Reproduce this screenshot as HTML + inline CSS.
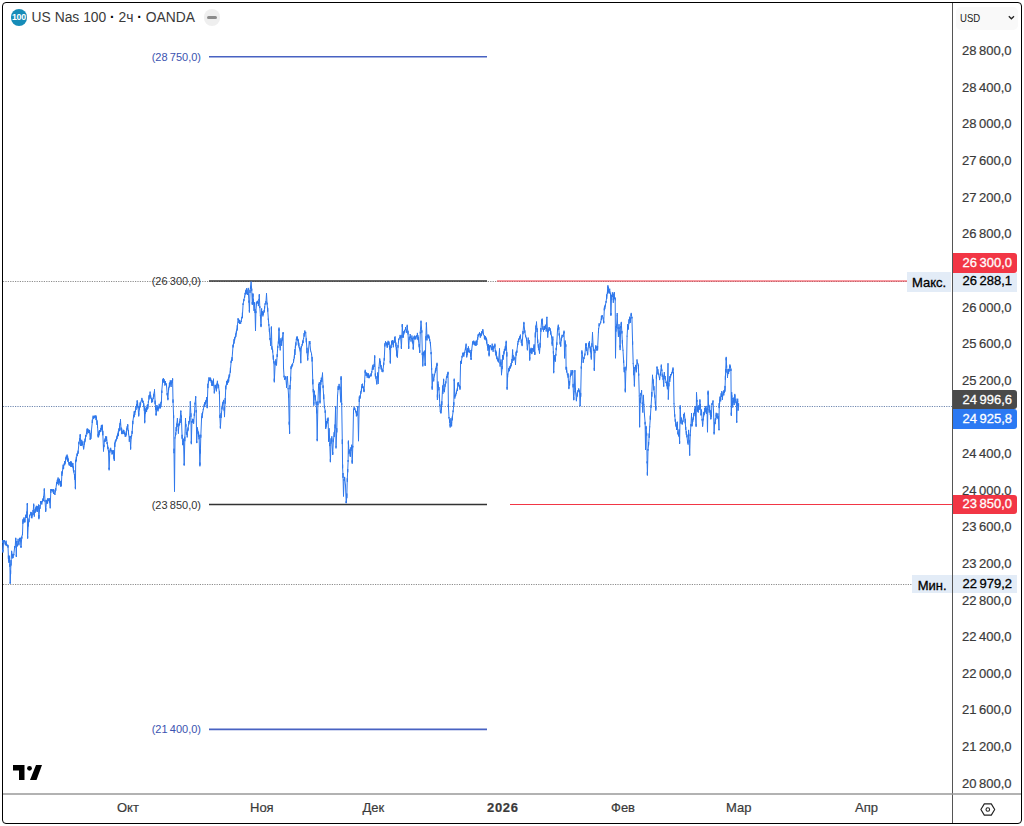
<!DOCTYPE html>
<html><head><meta charset="utf-8">
<style>
*{margin:0;padding:0;box-sizing:border-box}
html,body{width:1024px;height:826px;background:#fff;overflow:hidden;font-family:"Liberation Sans",sans-serif}
#frame{position:absolute;left:2px;top:2px;width:1020px;height:822px;border:1px solid #000;border-radius:4px;overflow:hidden;background:#fff}
svg{position:absolute;left:0;top:0}
.t{position:absolute;white-space:pre;line-height:1}
.pl{position:absolute;left:962px;font-size:13px;color:#3a3a3a;white-space:pre;line-height:1;-webkit-text-stroke:0.2px #3a3a3a}
.tl{position:absolute;top:801.4px;font-size:13px;color:#3a3a3a;white-space:pre;line-height:1;-webkit-text-stroke:0.2px #3a3a3a}
.fl{position:absolute;font-size:11px;white-space:pre;line-height:1;text-align:right;width:60px}
.lab{position:absolute;left:953px;width:64px;font-size:13px;line-height:13px;padding-left:9.5px;white-space:pre;-webkit-text-stroke:0.3px currentColor}
.side{position:absolute;font-size:13px;line-height:13px;background:#e3ecf7;color:#000;white-space:pre;text-align:center;-webkit-text-stroke:0.3px currentColor}
</style></head>
<body>
<div id="frame"></div>
<svg width="1024" height="826" viewBox="0 0 1024 826">
  <!-- axis dividers -->
  <line x1="952.5" y1="3" x2="952.5" y2="823" stroke="#555" stroke-width="1"/>
  <line x1="3" y1="794" x2="1021" y2="794" stroke="#999" stroke-width="1.4"/>
  <!-- dotted lines -->
  <line x1="3" y1="281.5" x2="907" y2="281.5" stroke="#8c8c8c" stroke-width="1" stroke-dasharray="1.2 1.2"/>
  <line x1="3" y1="584.5" x2="912" y2="584.5" stroke="#8c8c8c" stroke-width="1" stroke-dasharray="1.2 1.2"/>
  <line x1="3" y1="406.5" x2="952" y2="406.5" stroke="#7088b0" stroke-width="1" stroke-dasharray="1.2 1.2"/>
  <!-- fib lines -->
  <line x1="209" y1="56.8" x2="487" y2="56.8" stroke="#4862c2" stroke-width="1.6"/>
  <line x1="209" y1="281" x2="487" y2="281" stroke="#333" stroke-width="1.6"/>
  <line x1="209" y1="504.5" x2="487" y2="504.5" stroke="#333" stroke-width="1.6"/>
  <line x1="209" y1="729.4" x2="487" y2="729.4" stroke="#4862c2" stroke-width="1.6"/>
  <!-- red rays -->
  <line x1="497" y1="281" x2="907" y2="281" stroke="#f23645" stroke-width="1"/>
  <line x1="510" y1="504.5" x2="952" y2="504.5" stroke="#f23645" stroke-width="1"/>
  <g id="chart"><path d="M2.9 541.2 L2.9 542.9 L2.9 540.0 L2.9 541.2 L2.9 551.4 L2.9 552.6 L2.9 550.0 L2.9 551.4 L3.6 541.2 L3.6 542.7 L3.6 540.6 L3.6 541.2 L4.3 541.6 L4.3 540.0 L4.3 541.9 L4.3 541.6 L5.1 542.0 L5.1 544.4 L5.1 541.7 L5.1 542.0 L5.6 542.4 L5.6 545.3 L5.6 542.2 L5.6 542.4 L6.1 542.7 L6.1 540.7 L6.1 544.5 L6.1 542.7 L6.7 544.2 L6.7 544.1 L6.7 545.7 L6.7 544.2 L7.3 545.6 L7.3 545.0 L7.3 546.3 L7.3 545.6 L8.0 546.3 L8.0 547.6 L8.0 544.9 L8.0 546.3 L8.4 557.2 L8.4 555.6 L8.4 559.1 L8.4 557.2 L9.0 561.6 L9.0 559.6 L9.0 563.0 L9.0 561.6 L9.4 558.7 L9.4 561.7 L9.4 555.7 L9.4 558.7 L9.9 566.0 L9.9 563.9 L9.9 566.9 L9.9 566.0 L10.2 583.4 L10.2 583.6 L10.2 582.5 L10.2 583.4 L10.6 571.7 L10.6 570.5 L10.6 574.2 L10.6 571.7 L11.0 563.0 L11.0 560.1 L11.0 565.5 L11.0 563.0 L11.6 551.4 L11.6 550.8 L11.6 554.1 L11.6 551.4 L12.3 557.2 L12.3 554.3 L12.3 558.4 L12.3 557.2 L13.1 555.8 L13.1 553.9 L13.1 558.1 L13.1 555.8 L13.8 554.3 L13.8 555.3 L13.8 554.0 L13.8 554.3 L14.5 548.5 L14.5 546.2 L14.5 548.9 L14.5 548.5 L15.2 547.0 L15.2 547.2 L15.2 546.7 L15.2 547.0 L15.7 538.3 L15.7 537.8 L15.7 540.0 L15.7 538.3 L16.3 555.8 L16.3 555.2 L16.3 557.0 L16.3 555.8 L16.7 542.7 L16.7 540.8 L16.7 543.0 L16.7 542.7 L17.4 545.6 L17.4 546.4 L17.4 545.0 L17.4 545.6 L18.1 541.2 L18.1 542.1 L18.1 538.8 L18.1 541.2 L18.9 544.1 L18.9 545.3 L18.9 543.5 L18.9 544.1 L19.6 539.8 L19.6 540.1 L19.6 537.9 L19.6 539.8 L20.3 538.3 L20.3 539.1 L20.3 537.7 L20.3 538.3 L21.0 547.0 L21.0 546.0 L21.0 547.9 L21.0 547.0 L21.8 536.9 L21.8 536.6 L21.8 538.6 L21.8 536.9 L22.5 534.0 L22.5 532.2 L22.5 535.1 L22.5 534.0 L22.9 522.3 L22.9 523.8 L22.9 519.4 L22.9 522.3 L23.4 521.2 L23.4 518.6 L23.4 521.7 L23.4 521.2 L24.0 520.1 L24.0 517.4 L24.0 522.6 L24.0 520.1 L24.5 519.8 L24.5 522.0 L24.5 519.2 L24.5 519.8 L25.0 519.4 L25.0 522.3 L25.0 518.8 L25.0 519.4 L25.8 516.5 L25.8 514.7 L25.8 517.8 L25.8 516.5 L26.4 515.0 L26.4 514.9 L26.4 517.9 L26.4 515.0 L26.9 513.6 L26.9 514.4 L26.9 511.5 L26.9 513.6 L27.3 504.2 L27.3 503.0 L27.3 505.1 L27.3 504.2 L27.6 538.3 L27.6 536.1 L27.6 538.5 L27.6 538.3 L28.3 523.8 L28.3 526.4 L28.3 522.1 L28.3 523.8 L29.0 519.4 L29.0 518.6 L29.0 522.2 L29.0 519.4 L29.8 515.0 L29.8 515.0 L29.8 515.8 L29.8 515.0 L30.3 514.3 L30.3 514.1 L30.3 514.8 L30.3 514.3 L30.8 513.6 L30.8 511.9 L30.8 514.0 L30.8 513.6 L31.4 515.0 L31.4 518.0 L31.4 512.4 L31.4 515.0 L31.9 516.5 L31.9 514.4 L31.9 518.3 L31.9 516.5 L32.5 514.3 L32.5 514.4 L32.5 514.2 L32.5 514.3 L33.1 512.1 L33.1 510.0 L33.1 515.0 L33.1 512.1 L33.7 504.9 L33.7 506.3 L33.7 503.7 L33.7 504.9 L34.3 513.6 L34.3 512.6 L34.3 516.6 L34.3 513.6 L35.1 510.7 L35.1 512.9 L35.1 509.1 L35.1 510.7 L35.7 509.6 L35.7 511.7 L35.7 507.4 L35.7 509.6 L36.3 508.5 L36.3 509.6 L36.3 505.8 L36.3 508.5 L36.9 508.9 L36.9 506.1 L36.9 511.5 L36.9 508.9 L37.5 509.2 L37.5 511.8 L37.5 506.8 L37.5 509.2 L38.0 507.8 L38.0 508.9 L38.0 505.9 L38.0 507.8 L38.5 506.3 L38.5 506.5 L38.5 504.5 L38.5 506.3 L38.9 518.0 L38.9 519.2 L38.9 515.0 L38.9 518.0 L39.5 509.2 L39.5 511.4 L39.5 508.0 L39.5 509.2 L40.0 506.3 L40.0 505.0 L40.0 508.8 L40.0 506.3 L40.6 503.4 L40.6 503.5 L40.6 501.1 L40.6 503.4 L41.2 503.0 L41.2 503.7 L41.2 501.6 L41.2 503.0 L41.8 502.7 L41.8 504.5 L41.8 501.2 L41.8 502.7 L42.3 501.6 L42.3 500.8 L42.3 501.6 L42.3 501.6 L42.8 500.5 L42.8 498.5 L42.8 501.1 L42.8 500.5 L43.5 499.1 L43.5 496.4 L43.5 501.1 L43.5 499.1 L44.3 489.6 L44.3 490.6 L44.3 488.4 L44.3 489.6 L45.0 500.5 L45.0 501.8 L45.0 499.9 L45.0 500.5 L45.7 510.7 L45.7 508.0 L45.7 511.9 L45.7 510.7 L46.4 502.0 L46.4 500.3 L46.4 502.9 L46.4 502.0 L47.0 501.2 L47.0 503.8 L47.0 499.8 L47.0 501.2 L47.6 500.5 L47.6 498.4 L47.6 503.4 L47.6 500.5 L48.1 499.8 L48.1 499.3 L48.1 501.2 L48.1 499.8 L48.6 499.1 L48.6 500.3 L48.6 498.5 L48.6 499.1 L49.1 500.1 L49.1 501.1 L49.1 498.7 L49.1 500.1 L49.6 501.2 L49.6 498.3 L49.6 502.6 L49.6 501.2 L50.2 507.1 L50.2 507.0 L50.2 508.3 L50.2 507.1 L50.8 491.1 L50.8 489.1 L50.8 492.8 L50.8 491.1 L51.4 490.7 L51.4 489.1 L51.4 490.8 L51.4 490.7 L52.0 490.3 L52.0 490.4 L52.0 489.1 L52.0 490.3 L52.5 490.7 L52.5 490.0 L52.5 491.1 L52.5 490.7 L53.0 491.1 L53.0 492.4 L53.0 489.2 L53.0 491.1 L53.5 491.5 L53.5 493.9 L53.5 489.5 L53.5 491.5 L54.0 491.8 L54.0 489.7 L54.0 492.4 L54.0 491.8 L54.9 494.7 L54.9 494.2 L54.9 494.7 L54.9 494.7 L55.7 490.3 L55.7 488.2 L55.7 490.8 L55.7 490.3 L56.6 483.1 L56.6 485.2 L56.6 482.1 L56.6 483.1 L57.3 481.6 L57.3 479.8 L57.3 483.9 L57.3 481.6 L58.1 478.7 L58.1 477.5 L58.1 481.4 L58.1 478.7 L58.8 483.1 L58.8 480.3 L58.8 485.3 L58.8 483.1 L59.5 480.2 L59.5 482.1 L59.5 478.8 L59.5 480.2 L60.1 482.0 L60.1 483.7 L60.1 480.9 L60.1 482.0 L60.7 483.9 L60.7 481.5 L60.7 486.7 L60.7 483.9 L61.3 485.7 L61.3 486.3 L61.3 483.7 L61.3 485.7 L61.9 473.9 L61.9 475.8 L61.9 471.4 L61.9 473.9 L62.5 470.8 L62.5 473.4 L62.5 470.1 L62.5 470.8 L63.1 467.6 L63.1 469.2 L63.1 464.7 L63.1 467.6 L63.6 466.0 L63.6 468.8 L63.6 465.1 L63.6 466.0 L64.2 464.5 L64.2 463.4 L64.2 464.7 L64.2 464.5 L64.7 462.9 L64.7 461.2 L64.7 465.2 L64.7 462.9 L65.2 461.3 L65.2 461.2 L65.2 463.7 L65.2 461.3 L65.8 459.7 L65.8 457.3 L65.8 460.2 L65.8 459.7 L66.3 458.1 L66.3 455.7 L66.3 458.5 L66.3 458.1 L67.1 455.8 L67.1 458.0 L67.1 454.6 L67.1 455.8 L67.7 458.6 L67.7 456.5 L67.7 461.4 L67.7 458.6 L68.2 461.3 L68.2 458.5 L68.2 461.6 L68.2 461.3 L69.1 464.4 L69.1 465.3 L69.1 462.8 L69.1 464.4 L69.7 464.0 L69.7 465.6 L69.7 462.1 L69.7 464.0 L70.2 463.6 L70.2 461.9 L70.2 464.5 L70.2 463.6 L70.7 463.9 L70.7 461.3 L70.7 466.6 L70.7 463.9 L71.3 464.1 L71.3 467.0 L71.3 461.6 L71.3 464.1 L71.8 464.4 L71.8 465.0 L71.8 462.7 L71.8 464.4 L72.3 465.2 L72.3 463.7 L72.3 467.0 L72.3 465.2 L72.9 466.0 L72.9 463.1 L72.9 467.5 L72.9 466.0 L73.4 469.1 L73.4 466.7 L73.4 470.8 L73.4 469.1 L73.9 472.3 L73.9 472.5 L73.9 470.2 L73.9 472.3 L74.5 475.5 L74.5 478.3 L74.5 474.2 L74.5 475.5 L75.0 478.6 L75.0 477.8 L75.0 480.0 L75.0 478.6 L75.4 488.0 L75.4 489.2 L75.4 486.7 L75.4 488.0 L75.7 461.3 L75.7 459.9 L75.7 462.3 L75.7 461.3 L76.3 458.6 L76.3 456.7 L76.3 461.3 L76.3 458.6 L77.0 455.8 L77.0 453.5 L77.0 455.9 L77.0 455.8 L77.5 453.8 L77.5 453.1 L77.5 455.9 L77.5 453.8 L78.1 451.8 L78.1 450.7 L78.1 453.7 L78.1 451.8 L78.9 444.0 L78.9 444.4 L78.9 441.8 L78.9 444.0 L79.7 439.2 L79.7 439.8 L79.7 438.4 L79.7 439.2 L80.2 435.3 L80.2 434.1 L80.2 436.4 L80.2 435.3 L80.8 445.5 L80.8 443.9 L80.8 446.0 L80.8 445.5 L81.2 443.9 L81.2 445.9 L81.2 442.1 L81.2 443.9 L81.7 442.4 L81.7 444.2 L81.7 439.8 L81.7 442.4 L82.2 443.2 L82.2 445.4 L82.2 442.5 L82.2 443.2 L82.8 444.0 L82.8 441.3 L82.8 444.9 L82.8 444.0 L83.6 448.7 L83.6 449.4 L83.6 445.9 L83.6 448.7 L84.4 444.0 L84.4 441.3 L84.4 444.4 L84.4 444.0 L85.0 440.9 L85.0 438.7 L85.0 441.6 L85.0 440.9 L85.5 437.7 L85.5 439.0 L85.5 435.2 L85.5 437.7 L86.0 435.4 L86.0 436.6 L86.0 435.0 L86.0 435.4 L86.5 433.0 L86.5 433.6 L86.5 432.9 L86.5 433.0 L87.0 431.4 L87.0 428.7 L87.0 434.3 L87.0 431.4 L87.6 429.8 L87.6 432.1 L87.6 428.6 L87.6 429.8 L88.2 431.4 L88.2 429.3 L88.2 432.0 L88.2 431.4 L88.7 433.0 L88.7 433.1 L88.7 432.7 L88.7 433.0 L89.6 431.4 L89.6 429.9 L89.6 433.1 L89.6 431.4 L90.2 439.2 L90.2 439.8 L90.2 438.6 L90.2 439.2 L90.9 436.1 L90.9 433.1 L90.9 438.9 L90.9 436.1 L91.5 429.8 L91.5 429.6 L91.5 432.7 L91.5 429.8 L92.3 422.0 L92.3 419.7 L92.3 423.0 L92.3 422.0 L93.1 417.2 L93.1 418.5 L93.1 415.7 L93.1 417.2 L93.7 416.8 L93.7 418.9 L93.7 416.8 L93.7 416.8 L94.3 416.4 L94.3 417.8 L94.3 415.9 L94.3 416.4 L94.9 416.8 L94.9 415.6 L94.9 417.4 L94.9 416.8 L95.6 417.2 L95.6 417.2 L95.6 415.7 L95.6 417.2 L96.0 418.0 L96.0 420.1 L96.0 415.6 L96.0 418.0 L96.5 418.8 L96.5 420.0 L96.5 416.9 L96.5 418.8 L97.0 422.0 L97.0 424.9 L97.0 420.4 L97.0 422.0 L97.5 425.1 L97.5 427.8 L97.5 424.3 L97.5 425.1 L98.1 436.1 L98.1 433.8 L98.1 437.3 L98.1 436.1 L98.6 434.6 L98.6 437.2 L98.6 431.9 L98.6 434.6 L99.1 433.0 L99.1 430.7 L99.1 435.3 L99.1 433.0 L99.7 432.2 L99.7 430.0 L99.7 432.4 L99.7 432.2 L100.2 431.4 L100.2 430.0 L100.2 431.4 L100.2 431.4 L100.8 429.8 L100.8 427.9 L100.8 431.7 L100.8 429.8 L101.3 428.2 L101.3 425.4 L101.3 430.2 L101.3 428.2 L101.8 427.0 L101.8 428.8 L101.8 425.1 L101.8 427.0 L102.2 425.9 L102.2 428.9 L102.2 424.7 L102.2 425.9 L102.8 433.0 L102.8 435.3 L102.8 430.9 L102.8 433.0 L103.5 450.3 L103.5 451.5 L103.5 450.2 L103.5 450.3 L104.0 445.6 L104.0 444.8 L104.0 446.8 L104.0 445.6 L104.4 440.8 L104.4 440.2 L104.4 441.9 L104.4 440.8 L105.1 439.2 L105.1 442.0 L105.1 438.5 L105.1 439.2 L105.7 437.7 L105.7 440.6 L105.7 436.2 L105.7 437.7 L106.6 439.2 L106.6 441.1 L106.6 436.5 L106.6 439.2 L107.1 442.4 L107.1 444.1 L107.1 442.1 L107.1 442.4 L107.6 445.5 L107.6 445.4 L107.6 448.3 L107.6 445.5 L108.0 448.6 L108.0 447.2 L108.0 449.2 L108.0 448.6 L108.5 451.8 L108.5 452.0 L108.5 450.0 L108.5 451.8 L109.1 469.1 L109.1 470.3 L109.1 467.8 L109.1 469.1 L109.8 451.8 L109.8 452.7 L109.8 450.7 L109.8 451.8 L110.2 450.2 L110.2 451.1 L110.2 448.6 L110.2 450.2 L110.7 448.7 L110.7 447.8 L110.7 448.7 L110.7 448.7 L111.3 450.2 L111.3 450.7 L111.3 450.1 L111.3 450.2 L112.0 451.8 L112.0 454.5 L112.0 450.6 L112.0 451.8 L112.6 451.1 L112.6 454.0 L112.6 450.9 L112.6 451.1 L113.2 450.3 L113.2 450.1 L113.2 453.0 L113.2 450.3 L113.9 455.8 L113.9 454.4 L113.9 458.7 L113.9 455.8 L114.3 459.7 L114.3 460.9 L114.3 458.1 L114.3 459.7 L114.8 444.0 L114.8 446.9 L114.8 442.6 L114.8 444.0 L115.3 442.4 L115.3 442.7 L115.3 440.6 L115.3 442.4 L115.9 440.8 L115.9 439.4 L115.9 441.4 L115.9 440.8 L116.5 439.2 L116.5 437.7 L116.5 439.6 L116.5 439.2 L117.0 437.7 L117.0 435.7 L117.0 439.1 L117.0 437.7 L117.7 435.4 L117.7 436.6 L117.7 433.6 L117.7 435.4 L118.3 433.0 L118.3 436.0 L118.3 431.4 L118.3 433.0 L118.9 430.6 L118.9 428.4 L118.9 431.3 L118.9 430.6 L119.5 428.2 L119.5 430.6 L119.5 425.5 L119.5 428.2 L120.0 424.3 L120.0 425.1 L120.0 423.2 L120.0 424.3 L120.5 420.4 L120.5 422.2 L120.5 419.2 L120.5 420.4 L121.1 429.8 L121.1 427.5 L121.1 430.4 L121.1 429.8 L121.7 431.4 L121.7 434.1 L121.7 428.5 L121.7 431.4 L122.2 433.0 L122.2 432.9 L122.2 433.2 L122.2 433.0 L122.8 432.2 L122.8 430.9 L122.8 434.1 L122.8 432.2 L123.3 431.4 L123.3 429.8 L123.3 431.6 L123.3 431.4 L123.9 432.2 L123.9 433.9 L123.9 430.2 L123.9 432.2 L124.6 433.0 L124.6 431.9 L124.6 434.4 L124.6 433.0 L125.2 434.6 L125.2 436.8 L125.2 433.5 L125.2 434.6 L125.8 436.1 L125.8 436.5 L125.8 435.9 L125.8 436.1 L126.3 433.0 L126.3 431.1 L126.3 435.3 L126.3 433.0 L126.8 429.8 L126.8 430.6 L126.8 428.5 L126.8 429.8 L127.2 427.5 L127.2 429.4 L127.2 426.3 L127.2 427.5 L127.7 425.1 L127.7 426.7 L127.7 424.1 L127.7 425.1 L128.5 433.0 L128.5 430.2 L128.5 434.3 L128.5 433.0 L129.3 439.2 L129.3 438.9 L129.3 441.8 L129.3 439.2 L130.1 436.1 L130.1 435.9 L130.1 437.8 L130.1 436.1 L130.6 448.7 L130.6 449.6 L130.6 446.6 L130.6 448.7 L131.2 437.7 L131.2 438.3 L131.2 437.5 L131.2 437.7 L131.6 435.4 L131.6 436.3 L131.6 435.1 L131.6 435.4 L132.1 433.0 L132.1 430.9 L132.1 433.8 L132.1 433.0 L132.8 422.0 L132.8 420.9 L132.8 424.2 L132.8 422.0 L133.7 415.6 L133.7 417.7 L133.7 415.2 L133.7 415.6 L134.2 414.1 L134.2 416.9 L134.2 411.3 L134.2 414.1 L134.8 412.5 L134.8 411.2 L134.8 414.9 L134.8 412.5 L135.4 410.9 L135.4 412.1 L135.4 409.9 L135.4 410.9 L135.9 409.3 L135.9 406.6 L135.9 410.0 L135.9 409.3 L136.6 405.4 L136.6 404.3 L136.6 406.5 L136.6 405.4 L137.2 401.5 L137.2 402.1 L137.2 400.3 L137.2 401.5 L137.6 404.6 L137.6 406.3 L137.6 402.3 L137.6 404.6 L138.1 407.8 L138.1 408.3 L138.1 406.1 L138.1 407.8 L138.7 415.6 L138.7 413.0 L138.7 416.4 L138.7 415.6 L139.5 407.8 L139.5 409.4 L139.5 406.3 L139.5 407.8 L140.1 405.4 L140.1 407.4 L140.1 402.5 L140.1 405.4 L140.6 403.0 L140.6 404.6 L140.6 402.8 L140.6 403.0 L141.2 401.1 L141.2 401.3 L141.2 400.8 L141.2 401.1 L141.9 399.1 L141.9 399.4 L141.9 397.9 L141.9 399.1 L142.5 400.3 L142.5 402.5 L142.5 399.9 L142.5 400.3 L143.1 401.5 L143.1 402.2 L143.1 400.8 L143.1 401.5 L143.7 404.6 L143.7 403.1 L143.7 406.9 L143.7 404.6 L144.3 407.8 L144.3 410.7 L144.3 406.8 L144.3 407.8 L144.7 422.0 L144.7 423.2 L144.7 420.5 L144.7 422.0 L145.4 410.9 L145.4 408.8 L145.4 413.6 L145.4 410.9 L146.0 410.1 L146.0 412.1 L146.0 407.6 L146.0 410.1 L146.6 409.3 L146.6 411.8 L146.6 406.9 L146.6 409.3 L147.2 407.8 L147.2 409.7 L147.2 404.9 L147.2 407.8 L147.9 406.2 L147.9 404.1 L147.9 408.6 L147.9 406.2 L148.4 402.2 L148.4 402.7 L148.4 401.0 L148.4 402.2 L149.0 398.3 L149.0 395.3 L149.0 399.4 L149.0 398.3 L149.6 395.6 L149.6 394.9 L149.6 396.8 L149.6 395.6 L150.1 392.8 L150.1 391.6 L150.1 393.0 L150.1 392.8 L150.6 395.6 L150.6 397.5 L150.6 395.2 L150.6 395.6 L151.0 398.3 L151.0 397.8 L151.0 398.5 L151.0 398.3 L151.6 399.9 L151.6 398.1 L151.6 402.6 L151.6 399.9 L152.1 401.5 L152.1 401.2 L152.1 402.1 L152.1 401.5 L152.6 399.9 L152.6 402.1 L152.6 399.2 L152.6 399.9 L153.2 398.3 L153.2 397.6 L153.2 398.9 L153.2 398.3 L153.8 394.4 L153.8 393.9 L153.8 396.7 L153.8 394.4 L154.5 390.5 L154.5 389.3 L154.5 393.0 L154.5 390.5 L155.1 401.5 L155.1 404.2 L155.1 400.7 L155.1 401.5 L155.6 408.2 L155.6 409.8 L155.6 407.2 L155.6 408.2 L156.1 414.9 L156.1 413.5 L156.1 415.6 L156.1 414.9 L156.9 407.8 L156.9 405.0 L156.9 410.2 L156.9 407.8 L157.4 408.6 L157.4 407.0 L157.4 410.1 L157.4 408.6 L158.0 409.3 L158.0 406.3 L158.0 411.3 L158.0 409.3 L158.6 407.8 L158.6 407.7 L158.6 409.2 L158.6 407.8 L159.2 406.2 L159.2 408.3 L159.2 403.8 L159.2 406.2 L159.8 406.0 L159.8 405.5 L159.8 406.5 L159.8 406.0 L160.4 405.8 L160.4 408.4 L160.4 405.0 L160.4 405.8 L160.9 404.1 L160.9 402.2 L160.9 407.1 L160.9 404.1 L161.4 402.4 L161.4 402.9 L161.4 400.8 L161.4 402.4 L161.8 390.5 L161.8 393.0 L161.8 390.5 L161.8 390.5 L162.6 382.0 L162.6 379.5 L162.6 382.2 L162.6 382.0 L163.1 380.8 L163.1 378.6 L163.1 381.0 L163.1 380.8 L163.5 379.5 L163.5 382.4 L163.5 378.3 L163.5 379.5 L164.3 382.0 L164.3 382.9 L164.3 379.4 L164.3 382.0 L164.9 382.9 L164.9 381.6 L164.9 385.6 L164.9 382.9 L165.5 383.7 L165.5 384.3 L165.5 381.2 L165.5 383.7 L166.0 384.5 L166.0 385.0 L166.0 383.0 L166.0 384.5 L166.5 385.4 L166.5 384.5 L166.5 386.3 L166.5 385.4 L167.2 393.9 L167.2 395.3 L167.2 393.0 L167.2 393.9 L167.9 399.0 L167.9 397.9 L167.9 400.2 L167.9 399.0 L168.6 388.8 L168.6 390.2 L168.6 387.6 L168.6 388.8 L169.4 385.4 L169.4 382.9 L169.4 387.4 L169.4 385.4 L169.9 383.7 L169.9 382.6 L169.9 385.8 L169.9 383.7 L170.3 382.0 L170.3 380.3 L170.3 383.4 L170.3 382.0 L171.1 384.6 L171.1 381.6 L171.1 387.0 L171.1 384.6 L171.9 382.0 L171.9 380.2 L171.9 382.9 L171.9 382.0 L172.6 379.5 L172.6 378.3 L172.6 380.4 L172.6 379.5 L173.0 400.7 L173.0 399.5 L173.0 402.7 L173.0 400.7 L173.6 415.9 L173.6 415.3 L173.6 418.1 L173.6 415.9 L174.0 451.5 L174.0 453.2 L174.0 448.7 L174.0 451.5 L174.5 490.5 L174.5 489.5 L174.5 491.7 L174.5 490.5 L175.0 438.0 L175.0 438.3 L175.0 437.6 L175.0 438.0 L175.7 434.6 L175.7 432.5 L175.7 435.1 L175.7 434.6 L176.2 429.5 L176.2 427.0 L176.2 431.3 L176.2 429.5 L176.7 424.4 L176.7 423.7 L176.7 424.9 L176.7 424.4 L177.4 419.3 L177.4 419.5 L177.4 418.1 L177.4 419.3 L177.9 425.2 L177.9 426.8 L177.9 424.0 L177.9 425.2 L178.4 431.2 L178.4 428.9 L178.4 433.7 L178.4 431.2 L179.1 424.4 L179.1 423.4 L179.1 425.6 L179.1 424.4 L179.6 422.7 L179.6 424.8 L179.6 421.5 L179.6 422.7 L180.1 421.0 L180.1 423.0 L180.1 418.6 L180.1 421.0 L180.8 410.8 L180.8 410.7 L180.8 411.8 L180.8 410.8 L181.4 417.6 L181.4 415.6 L181.4 417.9 L181.4 417.6 L182.1 436.3 L182.1 438.7 L182.1 434.8 L182.1 436.3 L182.8 444.7 L182.8 445.2 L182.8 442.9 L182.8 444.7 L183.5 441.4 L183.5 438.7 L183.5 443.0 L183.5 441.4 L184.2 465.1 L184.2 465.5 L184.2 463.6 L184.2 465.1 L184.8 439.7 L184.8 441.2 L184.8 436.7 L184.8 439.7 L185.5 419.3 L185.5 419.9 L185.5 418.1 L185.5 419.3 L185.9 426.1 L185.9 424.2 L185.9 426.7 L185.9 426.1 L186.4 432.9 L186.4 434.6 L186.4 432.2 L186.4 432.9 L187.2 434.6 L187.2 433.6 L187.2 437.4 L187.2 434.6 L187.6 431.2 L187.6 431.6 L187.6 429.8 L187.6 431.2 L188.1 427.8 L188.1 430.5 L188.1 427.4 L188.1 427.8 L188.9 422.7 L188.9 421.0 L188.9 424.4 L188.9 422.7 L189.7 419.3 L189.7 422.3 L189.7 416.6 L189.7 419.3 L190.3 402.4 L190.3 402.8 L190.3 401.2 L190.3 402.4 L190.9 414.2 L190.9 413.3 L190.9 416.9 L190.9 414.2 L191.3 443.0 L191.3 441.3 L191.3 444.2 L191.3 443.0 L191.9 422.7 L191.9 421.1 L191.9 422.9 L191.9 422.7 L192.6 419.3 L192.6 422.3 L192.6 418.8 L192.6 419.3 L193.1 421.0 L193.1 421.9 L193.1 419.0 L193.1 421.0 L193.6 422.7 L193.6 423.8 L193.6 420.5 L193.6 422.7 L194.3 415.9 L194.3 413.5 L194.3 415.9 L194.3 415.9 L195.0 404.1 L195.0 402.7 L195.0 404.5 L195.0 404.1 L195.7 397.3 L195.7 397.8 L195.7 396.1 L195.7 397.3 L196.2 410.8 L196.2 410.0 L196.2 412.5 L196.2 410.8 L196.7 443.0 L196.7 443.1 L196.7 441.1 L196.7 443.0 L197.4 427.8 L197.4 430.7 L197.4 427.4 L197.4 427.8 L198.2 432.9 L198.2 434.1 L198.2 431.5 L198.2 432.9 L198.6 434.6 L198.6 436.9 L198.6 432.5 L198.6 434.6 L199.1 436.3 L199.1 439.3 L199.1 434.8 L199.1 436.3 L199.9 465.1 L199.9 462.5 L199.9 466.3 L199.9 465.1 L200.4 450.7 L200.4 453.4 L200.4 449.0 L200.4 450.7 L200.8 436.3 L200.8 437.6 L200.8 434.7 L200.8 436.3 L201.6 417.6 L201.6 417.8 L201.6 416.6 L201.6 417.6 L202.1 415.9 L202.1 418.1 L202.1 413.2 L202.1 415.9 L202.5 414.2 L202.5 415.1 L202.5 411.9 L202.5 414.2 L203.3 409.2 L203.3 409.0 L203.3 409.6 L203.3 409.2 L204.2 405.8 L204.2 404.3 L204.2 407.0 L204.2 405.8 L204.7 404.5 L204.7 402.4 L204.7 406.1 L204.7 404.5 L205.2 403.2 L205.2 402.3 L205.2 404.4 L205.2 403.2 L205.8 400.7 L205.8 403.4 L205.8 400.5 L205.8 400.7 L206.7 399.0 L206.7 397.0 L206.7 401.6 L206.7 399.0 L207.2 407.5 L207.2 408.2 L207.2 405.1 L207.2 407.5 L207.9 385.4 L207.9 383.7 L207.9 388.1 L207.9 385.4 L208.4 382.9 L208.4 383.2 L208.4 380.5 L208.4 382.9 L208.9 380.3 L208.9 377.4 L208.9 380.3 L208.9 380.3 L209.5 379.5 L209.5 378.6 L209.5 380.4 L209.5 379.5 L210.1 378.6 L210.1 377.4 L210.1 381.0 L210.1 378.6 L210.7 379.5 L210.7 378.4 L210.7 381.2 L210.7 379.5 L211.3 380.3 L211.3 380.2 L211.3 383.0 L211.3 380.3 L211.8 382.9 L211.8 385.7 L211.8 381.4 L211.8 382.9 L212.3 385.4 L212.3 384.0 L212.3 386.0 L212.3 385.4 L212.9 383.3 L212.9 380.5 L212.9 386.0 L212.9 383.3 L213.5 381.2 L213.5 378.7 L213.5 382.3 L213.5 381.2 L214.3 392.2 L214.3 393.4 L214.3 391.7 L214.3 392.2 L215.2 385.4 L215.2 384.8 L215.2 387.3 L215.2 385.4 L215.8 387.9 L215.8 385.3 L215.8 388.1 L215.8 387.9 L216.4 390.5 L216.4 391.4 L216.4 388.3 L216.4 390.5 L216.9 386.2 L216.9 383.6 L216.9 388.4 L216.9 386.2 L217.4 382.0 L217.4 380.8 L217.4 384.8 L217.4 382.0 L218.0 384.6 L218.0 384.3 L218.0 385.2 L218.0 384.6 L218.6 387.1 L218.6 385.0 L218.6 387.7 L218.6 387.1 L219.4 392.2 L219.4 394.2 L219.4 391.5 L219.4 392.2 L219.9 415.9 L219.9 417.9 L219.9 414.8 L219.9 415.9 L220.4 427.8 L220.4 426.0 L220.4 428.5 L220.4 427.8 L221.1 415.9 L221.1 413.1 L221.1 417.9 L221.1 415.9 L221.9 409.2 L221.9 409.5 L221.9 407.3 L221.9 409.2 L222.4 405.8 L222.4 407.4 L222.4 404.5 L222.4 405.8 L222.8 402.4 L222.8 402.3 L222.8 404.2 L222.8 402.4 L223.6 400.7 L223.6 399.9 L223.6 403.1 L223.6 400.7 L224.1 408.3 L224.1 407.4 L224.1 410.6 L224.1 408.3 L224.5 415.9 L224.5 415.1 L224.5 417.1 L224.5 415.9 L225.2 400.7 L225.2 398.0 L225.2 403.7 L225.2 400.7 L225.8 387.1 L225.8 385.7 L225.8 389.4 L225.8 387.1 L226.5 383.7 L226.5 380.9 L226.5 385.2 L226.5 383.7 L227.0 382.9 L227.0 381.2 L227.0 384.8 L227.0 382.9 L227.5 382.0 L227.5 384.3 L227.5 380.0 L227.5 382.0 L228.1 380.3 L228.1 382.8 L228.1 378.8 L228.1 380.3 L228.7 378.6 L228.7 377.0 L228.7 381.5 L228.7 378.6 L229.1 377.0 L229.1 377.4 L229.1 374.6 L229.1 377.0 L229.6 375.3 L229.6 376.6 L229.6 374.6 L229.6 375.3 L230.4 370.2 L230.4 367.8 L230.4 372.6 L230.4 370.2 L231.1 362.2 L231.1 362.9 L231.1 360.7 L231.1 362.2 L231.6 360.8 L231.6 360.9 L231.6 359.3 L231.6 360.8 L232.0 359.3 L232.0 361.0 L232.0 357.2 L232.0 359.3 L232.5 352.8 L232.5 352.2 L232.5 353.2 L232.5 352.8 L233.0 346.2 L233.0 344.7 L233.0 347.5 L233.0 346.2 L233.5 344.0 L233.5 343.3 L233.5 346.4 L233.5 344.0 L234.0 341.9 L234.0 343.6 L234.0 339.2 L234.0 341.9 L234.6 339.7 L234.6 337.3 L234.6 340.4 L234.6 339.7 L235.2 337.5 L235.2 336.6 L235.2 337.6 L235.2 337.5 L235.8 335.3 L235.8 333.4 L235.8 336.9 L235.8 335.3 L236.3 333.1 L236.3 333.4 L236.3 331.3 L236.3 333.1 L236.8 330.2 L236.8 329.7 L236.8 331.0 L236.8 330.2 L237.3 327.3 L237.3 329.8 L237.3 325.2 L237.3 327.3 L238.1 318.6 L238.1 318.4 L238.1 319.8 L238.1 318.6 L238.8 320.1 L238.8 319.5 L238.8 323.0 L238.8 320.1 L239.5 321.5 L239.5 323.8 L239.5 320.0 L239.5 321.5 L240.1 322.2 L240.1 323.6 L240.1 321.8 L240.1 322.2 L240.7 323.0 L240.7 323.7 L240.7 322.9 L240.7 323.0 L241.2 320.8 L241.2 320.4 L241.2 322.0 L241.2 320.8 L241.7 318.6 L241.7 317.3 L241.7 318.8 L241.7 318.6 L242.4 315.7 L242.4 318.0 L242.4 312.7 L242.4 315.7 L243.1 304.1 L243.1 304.9 L243.1 303.4 L243.1 304.1 L243.9 299.7 L243.9 301.1 L243.9 299.0 L243.9 299.7 L244.6 296.8 L244.6 297.8 L244.6 295.7 L244.6 296.8 L245.1 294.6 L245.1 292.8 L245.1 294.7 L245.1 294.6 L245.6 292.4 L245.6 290.5 L245.6 292.6 L245.6 292.4 L246.1 291.7 L246.1 294.3 L246.1 289.6 L246.1 291.7 L246.5 291.0 L246.5 288.3 L246.5 292.4 L246.5 291.0 L247.0 292.4 L247.0 293.6 L247.0 289.9 L247.0 292.4 L247.5 293.9 L247.5 293.3 L247.5 294.9 L247.5 293.9 L248.2 289.5 L248.2 287.9 L248.2 290.0 L248.2 289.5 L248.9 301.2 L248.9 300.6 L248.9 302.6 L248.9 301.2 L249.4 311.3 L249.4 312.5 L249.4 310.0 L249.4 311.3 L250.0 292.4 L250.0 289.8 L250.0 293.0 L250.0 292.4 L250.5 286.6 L250.5 286.4 L250.5 288.7 L250.5 286.6 L251.1 282.3 L251.1 281.5 L251.1 282.4 L251.1 282.3 L251.7 289.5 L251.7 290.7 L251.7 288.7 L251.7 289.5 L252.3 304.1 L252.3 302.0 L252.3 304.9 L252.3 304.1 L252.9 293.9 L252.9 293.4 L252.9 296.7 L252.9 293.9 L253.4 301.2 L253.4 303.4 L253.4 298.9 L253.4 301.2 L254.0 309.9 L254.0 309.8 L254.0 310.9 L254.0 309.9 L254.6 302.6 L254.6 302.4 L254.6 305.2 L254.6 302.6 L255.0 311.3 L255.0 309.0 L255.0 312.9 L255.0 311.3 L255.5 330.2 L255.5 329.0 L255.5 330.9 L255.5 330.2 L255.9 311.3 L255.9 310.8 L255.9 313.1 L255.9 311.3 L256.6 302.6 L256.6 303.9 L256.6 301.7 L256.6 302.6 L257.5 301.2 L257.5 300.8 L257.5 303.3 L257.5 301.2 L258.4 304.1 L258.4 301.9 L258.4 306.1 L258.4 304.1 L258.9 299.7 L258.9 300.5 L258.9 299.1 L258.9 299.7 L259.3 295.3 L259.3 296.5 L259.3 294.1 L259.3 295.3 L259.8 307.0 L259.8 306.3 L259.8 307.9 L259.8 307.0 L260.4 315.7 L260.4 315.1 L260.4 315.8 L260.4 315.7 L261.0 325.9 L261.0 327.1 L261.0 324.0 L261.0 325.9 L261.6 311.3 L261.6 312.2 L261.6 308.4 L261.6 311.3 L262.4 314.2 L262.4 314.8 L262.4 311.4 L262.4 314.2 L262.9 313.5 L262.9 316.4 L262.9 311.5 L262.9 313.5 L263.3 312.8 L263.3 312.1 L263.3 314.7 L263.3 312.8 L264.2 311.3 L264.2 310.0 L264.2 312.5 L264.2 311.3 L264.6 307.7 L264.6 306.5 L264.6 308.7 L264.6 307.7 L265.1 304.1 L265.1 303.3 L265.1 304.6 L265.1 304.1 L265.9 302.6 L265.9 303.1 L265.9 301.2 L265.9 302.6 L266.5 293.9 L266.5 293.2 L266.5 294.2 L266.5 293.9 L267.1 304.1 L267.1 304.6 L267.1 302.8 L267.1 304.1 L267.7 309.9 L267.7 311.6 L267.7 307.8 L267.7 309.9 L268.3 318.6 L268.3 318.5 L268.3 319.8 L268.3 318.6 L268.8 324.4 L268.8 324.2 L268.8 325.6 L268.8 324.4 L269.4 330.2 L269.4 328.7 L269.4 332.0 L269.4 330.2 L270.0 339.0 L270.0 338.0 L270.0 339.8 L270.0 339.0 L270.7 343.3 L270.7 346.0 L270.7 342.3 L270.7 343.3 L271.4 327.3 L271.4 326.5 L271.4 329.3 L271.4 327.3 L271.9 347.7 L271.9 349.5 L271.9 346.3 L271.9 347.7 L272.6 350.6 L272.6 352.3 L272.6 349.5 L272.6 350.6 L273.3 357.8 L273.3 359.7 L273.3 355.5 L273.3 357.8 L273.9 362.2 L273.9 361.0 L273.9 363.4 L273.9 362.2 L274.3 381.1 L274.3 378.6 L274.3 382.3 L274.3 381.1 L275.1 365.1 L275.1 362.4 L275.1 365.2 L275.1 365.1 L275.8 360.8 L275.8 359.3 L275.8 361.7 L275.8 360.8 L276.5 365.1 L276.5 362.2 L276.5 365.5 L276.5 365.1 L277.2 354.9 L277.2 354.2 L277.2 356.9 L277.2 354.9 L277.8 346.2 L277.8 346.2 L277.8 347.8 L277.8 346.2 L278.4 341.9 L278.4 343.4 L278.4 341.2 L278.4 341.9 L279.0 328.8 L279.0 330.7 L279.0 327.6 L279.0 328.8 L279.6 343.3 L279.6 340.8 L279.6 346.2 L279.6 343.3 L280.2 347.7 L280.2 346.7 L280.2 350.4 L280.2 347.7 L280.9 340.4 L280.9 342.5 L280.9 338.3 L280.9 340.4 L281.6 343.3 L281.6 340.4 L281.6 345.8 L281.6 343.3 L282.3 339.0 L282.3 340.5 L282.3 337.1 L282.3 339.0 L283.1 333.1 L283.1 334.0 L283.1 332.0 L283.1 333.1 L283.5 368.0 L283.5 366.4 L283.5 368.7 L283.5 368.0 L284.1 376.7 L284.1 377.2 L284.1 375.7 L284.1 376.7 L284.8 379.7 L284.8 379.3 L284.8 379.9 L284.8 379.7 L285.7 376.7 L285.7 376.4 L285.7 378.8 L285.7 376.7 L286.5 385.5 L286.5 384.1 L286.5 387.8 L286.5 385.5 L287.4 376.7 L287.4 379.3 L287.4 376.2 L287.4 376.7 L288.1 388.4 L288.1 389.2 L288.1 388.2 L288.1 388.4 L288.6 396.3 L288.6 397.5 L288.6 393.9 L288.6 396.3 L289.2 422.5 L289.2 421.7 L289.2 424.6 L289.2 422.5 L289.6 432.7 L289.6 433.9 L289.6 431.7 L289.6 432.7 L290.0 387.6 L290.0 385.1 L290.0 389.3 L290.0 387.6 L290.6 378.9 L290.6 380.8 L290.6 376.8 L290.6 378.9 L291.0 368.7 L291.0 366.3 L291.0 369.1 L291.0 368.7 L291.8 366.6 L291.8 364.6 L291.8 367.3 L291.8 366.6 L292.6 363.7 L292.6 365.5 L292.6 363.7 L292.6 363.7 L293.5 362.2 L293.5 362.6 L293.5 359.3 L293.5 362.2 L294.4 356.4 L294.4 355.1 L294.4 358.3 L294.4 356.4 L294.9 352.0 L294.9 349.2 L294.9 355.0 L294.9 352.0 L295.4 347.7 L295.4 345.6 L295.4 348.1 L295.4 347.7 L295.9 343.4 L295.9 345.5 L295.9 342.5 L295.9 343.4 L296.4 339.0 L296.4 338.6 L296.4 340.0 L296.4 339.0 L296.9 338.2 L296.9 336.6 L296.9 339.7 L296.9 338.2 L297.3 337.5 L297.3 339.9 L297.3 336.6 L297.3 337.5 L297.8 339.7 L297.8 340.9 L297.8 338.8 L297.8 339.7 L298.3 341.9 L298.3 339.6 L298.3 344.8 L298.3 341.9 L298.8 344.8 L298.8 346.4 L298.8 342.7 L298.8 344.8 L299.3 347.7 L299.3 347.3 L299.3 348.2 L299.3 347.7 L300.2 350.6 L300.2 347.8 L300.2 351.4 L300.2 350.6 L300.8 362.2 L300.8 361.8 L300.8 363.2 L300.8 362.2 L301.3 347.7 L301.3 348.1 L301.3 346.0 L301.3 347.7 L302.2 344.8 L302.2 344.0 L302.2 345.5 L302.2 344.8 L302.6 342.6 L302.6 341.5 L302.6 343.4 L302.6 342.6 L303.1 340.4 L303.1 340.2 L303.1 343.1 L303.1 340.4 L303.6 338.2 L303.6 338.0 L303.6 338.7 L303.6 338.2 L304.1 336.0 L304.1 336.6 L304.1 333.0 L304.1 336.0 L304.8 331.7 L304.8 332.9 L304.8 330.5 L304.8 331.7 L305.7 333.1 L305.7 333.3 L305.7 331.9 L305.7 333.1 L306.3 340.4 L306.3 338.4 L306.3 342.3 L306.3 340.4 L307.0 350.6 L307.0 353.2 L307.0 347.8 L307.0 350.6 L307.7 359.3 L307.7 360.5 L307.7 358.0 L307.7 359.3 L308.5 350.6 L308.5 350.1 L308.5 350.7 L308.5 350.6 L309.2 341.9 L309.2 341.5 L309.2 342.1 L309.2 341.9 L309.9 343.3 L309.9 344.2 L309.9 341.0 L309.9 343.3 L310.6 350.6 L310.6 351.2 L310.6 350.6 L310.6 350.6 L311.5 353.5 L311.5 355.1 L311.5 353.5 L311.5 353.5 L312.1 359.3 L312.1 356.9 L312.1 361.5 L312.1 359.3 L312.8 381.8 L312.8 384.3 L312.8 379.4 L312.8 381.8 L313.3 392.0 L313.3 392.3 L313.3 389.0 L313.3 392.0 L313.8 403.6 L313.8 402.4 L313.8 405.7 L313.8 403.6 L314.4 393.4 L314.4 393.5 L314.4 390.7 L314.4 393.4 L314.9 395.6 L314.9 394.9 L314.9 396.8 L314.9 395.6 L315.3 397.8 L315.3 395.8 L315.3 400.2 L315.3 397.8 L316.2 403.6 L316.2 401.7 L316.2 404.7 L316.2 403.6 L316.7 412.3 L316.7 409.6 L316.7 413.3 L316.7 412.3 L317.2 440.0 L317.2 439.0 L317.2 441.2 L317.2 440.0 L317.9 403.6 L317.9 405.2 L317.9 401.4 L317.9 403.6 L318.6 384.7 L318.6 384.2 L318.6 385.0 L318.6 384.7 L319.3 383.3 L319.3 382.2 L319.3 384.6 L319.3 383.3 L320.0 402.2 L320.0 400.7 L320.0 403.4 L320.0 402.2 L320.8 381.8 L320.8 380.2 L320.8 384.7 L320.8 381.8 L321.3 380.4 L321.3 381.3 L321.3 377.7 L321.3 380.4 L321.8 378.9 L321.8 378.6 L321.8 381.9 L321.8 378.9 L322.5 373.8 L322.5 372.6 L322.5 374.5 L322.5 373.8 L323.1 387.6 L323.1 385.5 L323.1 388.1 L323.1 387.6 L323.7 396.3 L323.7 394.3 L323.7 399.1 L323.7 396.3 L324.4 406.5 L324.4 407.6 L324.4 405.9 L324.4 406.5 L325.2 410.9 L325.2 410.5 L325.2 412.8 L325.2 410.9 L325.7 428.3 L325.7 428.9 L325.7 426.4 L325.7 428.3 L326.3 424.0 L326.3 426.6 L326.3 421.3 L326.3 424.0 L326.8 422.5 L326.8 421.0 L326.8 424.2 L326.8 422.5 L327.3 421.0 L327.3 418.5 L327.3 423.1 L327.3 421.0 L328.1 419.6 L328.1 417.6 L328.1 420.9 L328.1 419.6 L328.6 440.0 L328.6 441.8 L328.6 439.3 L328.6 440.0 L329.2 429.8 L329.2 429.9 L329.2 428.3 L329.2 429.8 L329.8 444.3 L329.8 446.1 L329.8 443.0 L329.8 444.3 L330.4 461.7 L330.4 458.9 L330.4 462.2 L330.4 461.7 L331.0 441.4 L331.0 438.4 L331.0 443.6 L331.0 441.4 L331.8 438.5 L331.8 436.3 L331.8 441.5 L331.8 438.5 L332.7 454.5 L332.7 454.9 L332.7 451.9 L332.7 454.5 L333.3 441.4 L333.3 442.1 L333.3 439.9 L333.3 441.4 L334.2 434.1 L334.2 436.9 L334.2 432.2 L334.2 434.1 L335.0 426.9 L335.0 428.4 L335.0 424.5 L335.0 426.9 L335.6 406.5 L335.6 409.1 L335.6 406.3 L335.6 406.5 L336.0 447.2 L336.0 446.4 L336.0 448.4 L336.0 447.2 L336.8 429.8 L336.8 428.2 L336.8 432.4 L336.8 429.8 L337.5 396.3 L337.5 395.5 L337.5 398.2 L337.5 396.3 L338.2 387.6 L338.2 385.9 L338.2 390.0 L338.2 387.6 L338.6 386.9 L338.6 389.3 L338.6 386.2 L338.6 386.9 L339.1 386.2 L339.1 387.8 L339.1 383.9 L339.1 386.2 L340.0 389.1 L340.0 386.7 L340.0 389.6 L340.0 389.1 L340.8 402.2 L340.8 401.9 L340.8 402.3 L340.8 402.2 L341.1 377.4 L341.1 376.2 L341.1 379.9 L341.1 377.4 L341.7 403.6 L341.7 404.8 L341.7 403.1 L341.7 403.6 L342.3 441.4 L342.3 439.5 L342.3 444.1 L342.3 441.4 L342.6 467.6 L342.6 468.2 L342.6 464.6 L342.6 467.6 L343.0 475.6 L343.0 473.0 L343.0 477.8 L343.0 475.6 L343.5 495.2 L343.5 493.2 L343.5 496.5 L343.5 495.2 L344.1 480.0 L344.1 480.9 L344.1 479.0 L344.1 480.0 L344.6 477.7 L344.6 479.5 L344.6 476.9 L344.6 477.7 L345.5 485.4 L345.5 485.8 L345.5 484.9 L345.5 485.4 L346.2 502.8 L346.2 501.4 L346.2 503.2 L346.2 502.8 L346.8 496.3 L346.8 493.5 L346.8 498.1 L346.8 496.3 L347.3 478.8 L347.3 481.8 L347.3 478.2 L347.3 478.8 L347.7 471.2 L347.7 469.0 L347.7 472.3 L347.7 471.2 L348.1 461.4 L348.1 461.8 L348.1 460.2 L348.1 461.4 L348.4 441.8 L348.4 440.6 L348.4 444.3 L348.4 441.8 L349.0 452.7 L349.0 454.2 L349.0 451.3 L349.0 452.7 L349.6 450.5 L349.6 449.5 L349.6 452.6 L349.6 450.5 L350.3 456.0 L350.3 456.9 L350.3 454.3 L350.3 456.0 L350.9 448.3 L350.9 450.9 L350.9 447.4 L350.9 448.3 L351.7 446.1 L351.7 444.7 L351.7 448.9 L351.7 446.1 L352.2 462.5 L352.2 460.3 L352.2 463.7 L352.2 462.5 L352.8 446.1 L352.8 445.9 L352.8 447.4 L352.8 446.1 L353.5 410.9 L353.5 409.6 L353.5 413.8 L353.5 410.9 L354.2 408.0 L354.2 406.8 L354.2 410.0 L354.2 408.0 L354.9 409.4 L354.9 409.8 L354.9 408.2 L354.9 409.4 L355.6 410.9 L355.6 410.1 L355.6 412.2 L355.6 410.9 L356.4 413.8 L356.4 416.4 L356.4 411.3 L356.4 413.8 L357.1 415.2 L357.1 415.5 L357.1 413.6 L357.1 415.2 L357.8 406.5 L357.8 406.2 L357.8 407.6 L357.8 406.5 L358.5 440.0 L358.5 437.8 L358.5 441.2 L358.5 440.0 L359.3 399.2 L359.3 396.5 L359.3 402.0 L359.3 399.2 L360.1 397.2 L360.1 395.3 L360.1 398.6 L360.1 397.2 L360.8 392.8 L360.8 393.7 L360.8 391.4 L360.8 392.8 L361.5 388.5 L361.5 391.4 L361.5 386.7 L361.5 388.5 L362.0 387.1 L362.0 388.2 L362.0 384.1 L362.0 387.1 L362.5 385.6 L362.5 387.7 L362.5 383.7 L362.5 385.6 L363.4 387.0 L363.4 386.8 L363.4 388.4 L363.4 387.0 L364.0 391.4 L364.0 392.1 L364.0 389.4 L364.0 391.4 L364.6 381.2 L364.6 380.6 L364.6 382.3 L364.6 381.2 L365.2 371.0 L365.2 369.8 L365.2 373.2 L365.2 371.0 L366.0 374.0 L366.0 375.9 L366.0 373.5 L366.0 374.0 L366.6 374.7 L366.6 375.5 L366.6 372.5 L366.6 374.7 L367.2 375.4 L367.2 373.2 L367.2 377.7 L367.2 375.4 L367.8 375.8 L367.8 375.8 L367.8 374.3 L367.8 375.8 L368.4 376.1 L368.4 373.3 L368.4 378.1 L368.4 376.1 L368.9 376.5 L368.9 378.1 L368.9 375.4 L368.9 376.5 L369.5 376.9 L369.5 376.6 L369.5 378.1 L369.5 376.9 L370.1 376.1 L370.1 376.5 L370.1 374.6 L370.1 376.1 L370.7 375.4 L370.7 375.7 L370.7 375.0 L370.7 375.4 L371.2 373.9 L371.2 373.1 L371.2 376.3 L371.2 373.9 L371.7 372.5 L371.7 371.3 L371.7 372.7 L371.7 372.5 L372.4 368.1 L372.4 366.7 L372.4 369.8 L372.4 368.1 L372.9 367.4 L372.9 367.7 L372.9 364.8 L372.9 367.4 L373.3 366.7 L373.3 369.6 L373.3 366.2 L373.3 366.7 L374.2 365.2 L374.2 367.0 L374.2 364.0 L374.2 365.2 L374.7 356.5 L374.7 355.3 L374.7 357.7 L374.7 356.5 L375.3 374.0 L375.3 376.5 L375.3 373.5 L375.3 374.0 L376.0 378.3 L376.0 378.8 L376.0 376.2 L376.0 378.3 L376.8 384.1 L376.8 384.0 L376.8 384.4 L376.8 384.1 L377.5 375.4 L377.5 377.3 L377.5 372.5 L377.5 375.4 L378.2 382.7 L378.2 382.6 L378.2 383.9 L378.2 382.7 L378.9 368.1 L378.9 368.4 L378.9 367.3 L378.9 368.1 L379.7 359.4 L379.7 360.9 L379.7 358.4 L379.7 359.4 L380.4 363.8 L380.4 366.6 L380.4 361.1 L380.4 363.8 L381.1 366.7 L381.1 365.2 L381.1 369.4 L381.1 366.7 L382.0 369.6 L382.0 368.7 L382.0 371.8 L382.0 369.6 L382.9 371.0 L382.9 369.9 L382.9 372.2 L382.9 371.0 L383.7 363.8 L383.7 362.7 L383.7 365.1 L383.7 363.8 L384.3 358.0 L384.3 357.9 L384.3 360.5 L384.3 358.0 L384.9 344.9 L384.9 343.3 L384.9 346.5 L384.9 344.9 L385.5 342.0 L385.5 341.3 L385.5 342.3 L385.5 342.0 L386.3 343.4 L386.3 342.5 L386.3 344.9 L386.3 343.4 L387.2 346.3 L387.2 344.1 L387.2 347.8 L387.2 346.3 L387.6 344.1 L387.6 342.9 L387.6 347.0 L387.6 344.1 L388.1 342.0 L388.1 340.8 L388.1 344.9 L388.1 342.0 L389.0 343.4 L389.0 341.6 L389.0 344.5 L389.0 343.4 L389.8 347.8 L389.8 346.0 L389.8 349.6 L389.8 347.8 L390.3 362.3 L390.3 363.5 L390.3 360.8 L390.3 362.3 L390.7 347.8 L390.7 347.6 L390.7 348.1 L390.7 347.8 L391.1 345.6 L391.1 344.8 L391.1 348.0 L391.1 345.6 L391.6 343.4 L391.6 340.8 L391.6 344.6 L391.6 343.4 L392.4 342.0 L392.4 342.3 L392.4 340.0 L392.4 342.0 L392.9 343.4 L392.9 341.0 L392.9 344.4 L392.9 343.4 L393.3 344.9 L393.3 347.3 L393.3 342.4 L393.3 344.9 L394.2 340.5 L394.2 340.3 L394.2 342.8 L394.2 340.5 L394.6 339.1 L394.6 340.7 L394.6 337.2 L394.6 339.1 L395.1 337.6 L395.1 337.7 L395.1 336.4 L395.1 337.6 L395.9 344.9 L395.9 342.6 L395.9 346.6 L395.9 344.9 L396.4 349.2 L396.4 350.5 L396.4 347.0 L396.4 349.2 L396.8 353.6 L396.8 350.6 L396.8 356.4 L396.8 353.6 L397.4 356.5 L397.4 357.7 L397.4 354.2 L397.4 356.5 L398.0 346.3 L398.0 345.2 L398.0 347.6 L398.0 346.3 L398.8 339.1 L398.8 340.1 L398.8 338.7 L398.8 339.1 L399.7 337.6 L399.7 337.9 L399.7 337.4 L399.7 337.6 L400.1 336.9 L400.1 334.9 L400.1 338.5 L400.1 336.9 L400.6 336.2 L400.6 337.1 L400.6 335.8 L400.6 336.2 L401.4 347.8 L401.4 346.1 L401.4 349.0 L401.4 347.8 L401.9 336.1 L401.9 337.8 L401.9 334.9 L401.9 336.1 L402.3 324.5 L402.3 324.1 L402.3 327.1 L402.3 324.5 L402.9 336.2 L402.9 336.1 L402.9 337.5 L402.9 336.2 L403.4 334.8 L403.4 332.7 L403.4 337.5 L403.4 334.8 L403.8 333.3 L403.8 334.5 L403.8 331.2 L403.8 333.3 L404.6 330.3 L404.6 330.0 L404.6 332.5 L404.6 330.3 L405.5 328.9 L405.5 327.1 L405.5 329.5 L405.5 328.9 L406.4 331.8 L406.4 332.8 L406.4 331.3 L406.4 331.8 L407.2 326.0 L407.2 327.2 L407.2 324.8 L407.2 326.0 L408.0 333.3 L408.0 334.4 L408.0 330.8 L408.0 333.3 L408.7 347.8 L408.7 346.4 L408.7 349.0 L408.7 347.8 L409.3 339.1 L409.3 337.0 L409.3 339.8 L409.3 339.1 L410.2 336.2 L410.2 334.0 L410.2 337.9 L410.2 336.2 L411.0 339.1 L411.0 338.9 L411.0 341.6 L411.0 339.1 L411.9 337.6 L411.9 338.9 L411.9 335.5 L411.9 337.6 L412.4 339.8 L412.4 342.7 L412.4 338.1 L412.4 339.8 L412.8 342.0 L412.8 340.6 L412.8 343.5 L412.8 342.0 L413.3 349.2 L413.3 346.9 L413.3 349.5 L413.3 349.2 L413.9 339.1 L413.9 339.2 L413.9 336.6 L413.9 339.1 L414.4 337.6 L414.4 335.9 L414.4 339.3 L414.4 337.6 L414.8 336.2 L414.8 339.1 L414.8 335.7 L414.8 336.2 L415.7 339.1 L415.7 339.4 L415.7 336.7 L415.7 339.1 L416.5 336.2 L416.5 336.8 L416.5 335.5 L416.5 336.2 L417.4 334.7 L417.4 335.1 L417.4 332.9 L417.4 334.7 L417.9 336.9 L417.9 339.6 L417.9 335.2 L417.9 336.9 L418.3 339.1 L418.3 340.2 L418.3 337.0 L418.3 339.1 L419.2 346.3 L419.2 347.2 L419.2 344.1 L419.2 346.3 L419.7 352.2 L419.7 350.0 L419.7 353.0 L419.7 352.2 L420.3 331.8 L420.3 331.7 L420.3 333.4 L420.3 331.8 L421.0 321.6 L421.0 320.7 L421.0 322.4 L421.0 321.6 L421.8 331.8 L421.8 330.3 L421.8 332.6 L421.8 331.8 L422.3 353.6 L422.3 355.1 L422.3 352.8 L422.3 353.6 L422.8 365.2 L422.8 366.4 L422.8 364.7 L422.8 365.2 L423.5 353.6 L423.5 355.2 L423.5 351.8 L423.5 353.6 L424.4 352.2 L424.4 354.2 L424.4 350.6 L424.4 352.2 L425.2 365.2 L425.2 362.9 L425.2 366.0 L425.2 365.2 L425.8 339.1 L425.8 340.2 L425.8 336.3 L425.8 339.1 L426.4 323.1 L426.4 322.4 L426.4 324.5 L426.4 323.1 L427.0 337.6 L427.0 340.4 L427.0 335.4 L427.0 337.6 L427.9 336.2 L427.9 334.5 L427.9 337.2 L427.9 336.2 L428.7 337.6 L428.7 337.9 L428.7 334.8 L428.7 337.6 L429.1 338.4 L429.1 338.6 L429.1 336.4 L429.1 338.4 L429.6 339.1 L429.6 338.8 L429.6 340.8 L429.6 339.1 L430.5 344.9 L430.5 345.8 L430.5 341.9 L430.5 344.9 L431.1 352.2 L431.1 352.0 L431.1 354.2 L431.1 352.2 L431.6 368.1 L431.6 369.8 L431.6 368.0 L431.6 368.1 L432.2 388.5 L432.2 389.7 L432.2 386.4 L432.2 388.5 L432.8 375.4 L432.8 375.6 L432.8 373.8 L432.8 375.4 L433.7 379.8 L433.7 379.2 L433.7 381.4 L433.7 379.8 L434.5 375.4 L434.5 376.0 L434.5 373.9 L434.5 375.4 L435.4 371.0 L435.4 369.7 L435.4 372.5 L435.4 371.0 L435.9 369.6 L435.9 371.2 L435.9 368.1 L435.9 369.6 L436.3 368.1 L436.3 366.4 L436.3 368.5 L436.3 368.1 L437.0 363.8 L437.0 365.9 L437.0 362.8 L437.0 363.8 L437.4 397.2 L437.4 400.0 L437.4 394.3 L437.4 397.2 L438.0 384.1 L438.0 381.5 L438.0 386.9 L438.0 384.1 L438.9 388.5 L438.9 390.3 L438.9 387.0 L438.9 388.5 L439.4 396.5 L439.4 398.3 L439.4 394.7 L439.4 396.5 L439.8 404.5 L439.8 406.1 L439.8 404.2 L439.8 404.5 L440.3 411.7 L440.3 412.0 L440.3 411.6 L440.3 411.7 L440.9 413.2 L440.9 410.3 L440.9 413.3 L440.9 413.2 L441.4 408.1 L441.4 410.2 L441.4 405.6 L441.4 408.1 L441.8 403.0 L441.8 405.3 L441.8 401.3 L441.8 403.0 L442.7 385.6 L442.7 385.8 L442.7 385.6 L442.7 385.6 L442.9 391.4 L442.9 388.5 L442.9 393.9 L442.9 391.4 L443.6 379.8 L443.6 378.8 L443.6 380.8 L443.6 379.8 L444.4 391.4 L444.4 392.2 L444.4 389.1 L444.4 391.4 L445.1 385.6 L445.1 386.6 L445.1 384.0 L445.1 385.6 L445.8 382.7 L445.8 383.4 L445.8 381.3 L445.8 382.7 L446.5 376.9 L446.5 376.4 L446.5 377.3 L446.5 376.9 L447.3 375.4 L447.3 374.0 L447.3 377.8 L447.3 375.4 L448.0 372.5 L448.0 371.8 L448.0 374.5 L448.0 372.5 L448.4 405.9 L448.4 406.7 L448.4 404.3 L448.4 405.9 L449.0 417.6 L449.0 417.0 L449.0 418.3 L449.0 417.6 L449.6 420.5 L449.6 422.7 L449.6 419.5 L449.6 420.5 L450.2 426.3 L450.2 423.9 L450.2 427.5 L450.2 426.3 L450.9 420.5 L450.9 418.2 L450.9 421.2 L450.9 420.5 L451.6 423.4 L451.6 422.2 L451.6 426.4 L451.6 423.4 L452.3 417.6 L452.3 420.3 L452.3 416.5 L452.3 417.6 L453.1 411.7 L453.1 412.1 L453.1 410.5 L453.1 411.7 L453.8 404.5 L453.8 405.5 L453.8 402.2 L453.8 404.5 L454.2 379.8 L454.2 380.7 L454.2 378.7 L454.2 379.8 L454.8 397.2 L454.8 398.6 L454.8 395.0 L454.8 397.2 L455.7 394.3 L455.7 394.3 L455.7 395.8 L455.7 394.3 L456.5 391.4 L456.5 391.2 L456.5 394.1 L456.5 391.4 L457.4 388.5 L457.4 391.1 L457.4 387.9 L457.4 388.5 L457.9 385.6 L457.9 386.6 L457.9 382.8 L457.9 385.6 L458.3 382.7 L458.3 384.8 L458.3 382.3 L458.3 382.7 L459.2 385.6 L459.2 386.0 L459.2 385.0 L459.2 385.6 L460.0 388.5 L460.0 389.7 L460.0 385.9 L460.0 388.5 L460.6 362.3 L460.6 360.9 L460.6 363.4 L460.6 362.3 L461.5 360.9 L461.5 360.1 L461.5 363.7 L461.5 360.9 L462.1 356.5 L462.1 355.9 L462.1 357.5 L462.1 356.5 L462.9 353.6 L462.9 352.7 L462.9 354.1 L462.9 353.6 L463.4 354.4 L463.4 356.0 L463.4 352.8 L463.4 354.4 L463.8 355.1 L463.8 356.7 L463.8 352.8 L463.8 355.1 L464.7 352.2 L464.7 352.0 L464.7 352.9 L464.7 352.2 L465.5 347.8 L465.5 350.1 L465.5 346.9 L465.5 347.8 L466.1 344.9 L466.1 343.7 L466.1 345.4 L466.1 344.9 L466.7 356.5 L466.7 357.4 L466.7 354.8 L466.7 356.5 L467.1 353.6 L467.1 355.0 L467.1 350.7 L467.1 353.6 L467.6 350.7 L467.6 348.2 L467.6 352.1 L467.6 350.7 L468.4 349.2 L468.4 346.4 L468.4 352.1 L468.4 349.2 L468.9 350.7 L468.9 348.4 L468.9 351.9 L468.9 350.7 L469.3 352.2 L469.3 352.7 L469.3 351.7 L469.3 352.2 L470.2 350.7 L470.2 350.1 L470.2 350.8 L470.2 350.7 L470.6 355.0 L470.6 356.5 L470.6 352.7 L470.6 355.0 L471.1 359.4 L471.1 358.0 L471.1 359.9 L471.1 359.4 L471.6 350.7 L471.6 349.8 L471.6 350.8 L471.6 350.7 L472.5 343.4 L472.5 341.5 L472.5 344.5 L472.5 343.4 L473.4 342.0 L473.4 340.8 L473.4 343.0 L473.4 342.0 L473.9 342.7 L473.9 340.8 L473.9 344.4 L473.9 342.7 L474.3 343.4 L474.3 341.8 L474.3 344.8 L474.3 343.4 L475.1 344.9 L475.1 345.6 L475.1 342.2 L475.1 344.9 L476.0 343.4 L476.0 340.8 L476.0 346.0 L476.0 343.4 L476.9 342.0 L476.9 340.5 L476.9 345.0 L476.9 342.0 L477.7 337.6 L477.7 337.1 L477.7 339.8 L477.7 337.6 L478.1 336.1 L478.1 336.6 L478.1 334.4 L478.1 336.1 L478.6 334.7 L478.6 335.0 L478.6 333.8 L478.6 334.7 L479.5 333.3 L479.5 332.3 L479.5 335.0 L479.5 333.3 L480.3 336.2 L480.3 333.4 L480.3 337.7 L480.3 336.2 L481.2 334.7 L481.2 334.7 L481.2 336.2 L481.2 334.7 L481.6 333.2 L481.6 331.5 L481.6 335.1 L481.6 333.2 L482.1 331.8 L482.1 331.5 L482.1 333.3 L482.1 331.8 L482.8 330.3 L482.8 329.1 L482.8 333.2 L482.8 330.3 L483.5 334.7 L483.5 335.0 L483.5 333.4 L483.5 334.7 L484.4 336.2 L484.4 338.7 L484.4 335.5 L484.4 336.2 L484.9 336.9 L484.9 339.6 L484.9 336.1 L484.9 336.9 L485.3 337.6 L485.3 339.3 L485.3 336.3 L485.3 337.6 L486.2 339.1 L486.2 337.6 L486.2 340.5 L486.2 339.1 L486.7 342.0 L486.7 339.5 L486.7 343.5 L486.7 342.0 L487.3 344.9 L487.3 345.5 L487.3 344.3 L487.3 344.9 L487.9 347.8 L487.9 350.7 L487.9 345.4 L487.9 347.8 L488.5 346.3 L488.5 348.7 L488.5 344.2 L488.5 346.3 L489.1 355.1 L489.1 352.7 L489.1 356.3 L489.1 355.1 L489.6 347.8 L489.6 345.4 L489.6 348.7 L489.6 347.8 L490.5 346.3 L490.5 346.4 L490.5 345.1 L490.5 346.3 L491.4 347.8 L491.4 350.2 L491.4 346.8 L491.4 347.8 L492.2 346.3 L492.2 349.1 L492.2 343.7 L492.2 346.3 L492.6 347.8 L492.6 347.6 L492.6 349.8 L492.6 347.8 L493.1 349.2 L493.1 346.3 L493.1 351.8 L493.1 349.2 L494.0 346.3 L494.0 348.4 L494.0 345.7 L494.0 346.3 L494.9 344.9 L494.9 343.7 L494.9 346.8 L494.9 344.9 L495.4 352.2 L495.4 352.4 L495.4 350.0 L495.4 352.2 L495.9 352.9 L495.9 355.3 L495.9 350.6 L495.9 352.9 L496.3 353.6 L496.3 356.4 L496.3 351.9 L496.3 353.6 L496.9 358.0 L496.9 356.5 L496.9 359.2 L496.9 358.0 L497.4 358.7 L497.4 359.2 L497.4 358.6 L497.4 358.7 L497.8 359.4 L497.8 361.4 L497.8 358.7 L497.8 359.4 L498.6 360.9 L498.6 358.8 L498.6 362.4 L498.6 360.9 L499.5 349.2 L499.5 349.8 L499.5 348.4 L499.5 349.2 L500.1 363.8 L500.1 361.7 L500.1 366.6 L500.1 363.8 L501.0 362.3 L501.0 359.5 L501.0 365.0 L501.0 362.3 L501.5 374.0 L501.5 375.2 L501.5 371.1 L501.5 374.0 L502.1 368.1 L502.1 365.8 L502.1 369.1 L502.1 368.1 L502.7 356.5 L502.7 354.9 L502.7 358.0 L502.7 356.5 L503.3 358.0 L503.3 355.4 L503.3 359.6 L503.3 358.0 L503.9 353.6 L503.9 351.4 L503.9 354.3 L503.9 353.6 L504.4 350.7 L504.4 349.0 L504.4 351.4 L504.4 350.7 L504.9 349.2 L504.9 349.0 L504.9 349.4 L504.9 349.2 L505.3 347.8 L505.3 350.6 L505.3 346.2 L505.3 347.8 L506.2 342.0 L506.2 340.8 L506.2 343.2 L506.2 342.0 L506.8 353.6 L506.8 352.2 L506.8 356.5 L506.8 353.6 L507.1 388.5 L507.1 389.7 L507.1 387.2 L507.1 388.5 L507.6 375.4 L507.6 377.3 L507.6 373.7 L507.6 375.4 L508.5 371.0 L508.5 371.8 L508.5 368.3 L508.5 371.0 L509.4 369.6 L509.4 366.6 L509.4 371.2 L509.4 369.6 L510.2 368.1 L510.2 365.8 L510.2 368.3 L510.2 368.1 L510.6 366.6 L510.6 367.5 L510.6 365.0 L510.6 366.6 L511.1 365.2 L511.1 366.2 L511.1 363.0 L511.1 365.2 L512.0 360.9 L512.0 359.0 L512.0 363.0 L512.0 360.9 L512.6 350.7 L512.6 349.5 L512.6 351.0 L512.6 350.7 L513.1 358.0 L513.1 355.1 L513.1 360.7 L513.1 358.0 L514.0 359.4 L514.0 360.2 L514.0 359.2 L514.0 359.4 L514.9 358.0 L514.9 356.7 L514.9 358.4 L514.9 358.0 L515.5 363.8 L515.5 362.1 L515.5 365.0 L515.5 363.8 L516.1 353.6 L516.1 355.6 L516.1 351.7 L516.1 353.6 L516.9 350.7 L516.9 350.6 L516.9 352.8 L516.9 350.7 L517.8 343.4 L517.8 343.2 L517.8 344.8 L517.8 343.4 L518.2 341.2 L518.2 341.0 L518.2 342.4 L518.2 341.2 L518.7 339.1 L518.7 342.0 L518.7 338.8 L518.7 339.1 L519.5 337.6 L519.5 336.4 L519.5 339.4 L519.5 337.6 L520.4 337.6 L520.4 334.6 L520.4 338.0 L520.4 337.6 L521.3 340.5 L521.3 343.1 L521.3 339.8 L521.3 340.5 L522.1 344.9 L522.1 346.1 L522.1 343.7 L522.1 344.9 L523.0 331.8 L523.0 334.2 L523.0 331.0 L523.0 331.8 L523.9 323.1 L523.9 321.9 L523.9 324.2 L523.9 323.1 L524.8 331.8 L524.8 332.7 L524.8 330.4 L524.8 331.8 L525.6 336.2 L525.6 337.1 L525.6 335.0 L525.6 336.2 L526.5 339.1 L526.5 340.5 L526.5 337.7 L526.5 339.1 L527.4 349.2 L527.4 350.3 L527.4 347.8 L527.4 349.2 L528.2 340.5 L528.2 337.6 L528.2 342.9 L528.2 340.5 L529.1 342.0 L529.1 340.0 L529.1 344.2 L529.1 342.0 L529.7 359.4 L529.7 360.6 L529.7 357.2 L529.7 359.4 L530.3 351.6 L530.3 352.9 L530.3 349.6 L530.3 351.6 L531.1 348.5 L531.1 350.8 L531.1 347.8 L531.1 348.5 L531.8 353.1 L531.8 354.1 L531.8 350.2 L531.8 353.1 L532.6 348.5 L532.6 349.7 L532.6 348.4 L532.6 348.5 L533.3 350.0 L533.3 349.2 L533.3 351.8 L533.3 350.0 L534.1 345.5 L534.1 344.3 L534.1 348.5 L534.1 345.5 L534.8 354.6 L534.8 354.8 L534.8 351.9 L534.8 354.6 L535.3 334.9 L535.3 332.4 L535.3 337.4 L535.3 334.9 L535.9 327.4 L535.9 329.5 L535.9 325.6 L535.9 327.4 L536.5 322.8 L536.5 321.6 L536.5 324.5 L536.5 322.8 L537.1 330.4 L537.1 332.1 L537.1 328.3 L537.1 330.4 L537.7 342.5 L537.7 342.9 L537.7 339.5 L537.7 342.5 L538.3 345.5 L538.3 347.7 L538.3 344.5 L538.3 345.5 L538.9 348.5 L538.9 350.2 L538.9 347.7 L538.9 348.5 L539.5 353.1 L539.5 353.6 L539.5 351.6 L539.5 353.1 L540.1 345.5 L540.1 342.8 L540.1 347.5 L540.1 345.5 L540.9 330.4 L540.9 328.0 L540.9 331.7 L540.9 330.4 L541.6 321.3 L541.6 322.7 L541.6 319.5 L541.6 321.3 L542.2 319.8 L542.2 321.5 L542.2 318.6 L542.2 319.8 L542.9 327.4 L542.9 326.3 L542.9 329.7 L542.9 327.4 L543.5 330.4 L543.5 331.6 L543.5 329.5 L543.5 330.4 L544.4 328.9 L544.4 326.4 L544.4 330.0 L544.4 328.9 L544.9 327.4 L544.9 326.3 L544.9 329.0 L544.9 327.4 L545.4 325.8 L545.4 324.7 L545.4 327.8 L545.4 325.8 L546.2 328.9 L546.2 331.5 L546.2 328.0 L546.2 328.9 L546.9 317.5 L546.9 316.8 L546.9 318.0 L546.9 317.5 L547.7 336.4 L547.7 337.6 L547.7 336.1 L547.7 336.4 L548.4 330.4 L548.4 331.9 L548.4 329.6 L548.4 330.4 L549.2 327.4 L549.2 329.9 L549.2 327.3 L549.2 327.4 L550.0 328.9 L550.0 331.0 L550.0 328.3 L550.0 328.9 L550.7 331.9 L550.7 330.9 L550.7 334.5 L550.7 331.9 L551.5 336.4 L551.5 335.0 L551.5 337.3 L551.5 336.4 L552.2 344.0 L552.2 345.7 L552.2 341.6 L552.2 344.0 L552.8 339.5 L552.8 336.5 L552.8 340.2 L552.8 339.5 L553.4 353.1 L553.4 353.6 L553.4 351.2 L553.4 353.1 L553.7 372.0 L553.7 371.0 L553.7 373.2 L553.7 372.0 L554.3 357.6 L554.3 360.3 L554.3 355.1 L554.3 357.6 L554.8 358.4 L554.8 359.4 L554.8 357.8 L554.8 358.4 L555.3 359.1 L555.3 361.7 L555.3 358.5 L555.3 359.1 L555.8 354.6 L555.8 353.9 L555.8 355.6 L555.8 354.6 L556.2 350.0 L556.2 350.1 L556.2 347.8 L556.2 350.0 L556.8 342.5 L556.8 345.0 L556.8 342.3 L556.8 342.5 L557.5 330.4 L557.5 328.7 L557.5 330.7 L557.5 330.4 L558.3 325.8 L558.3 328.8 L558.3 324.7 L558.3 325.8 L558.8 329.6 L558.8 327.0 L558.8 329.8 L558.8 329.6 L559.2 333.4 L559.2 333.3 L559.2 335.5 L559.2 333.4 L560.1 342.5 L560.1 344.5 L560.1 341.7 L560.1 342.5 L560.7 345.5 L560.7 344.5 L560.7 346.7 L560.7 345.5 L561.3 339.5 L561.3 337.8 L561.3 340.6 L561.3 339.5 L561.8 337.2 L561.8 336.5 L561.8 338.1 L561.8 337.2 L562.2 334.9 L562.2 335.8 L562.2 334.9 L562.2 334.9 L563.1 336.4 L563.1 336.7 L563.1 335.6 L563.1 336.4 L564.0 331.9 L564.0 330.7 L564.0 333.4 L564.0 331.9 L564.6 356.1 L564.6 358.4 L564.6 353.4 L564.6 356.1 L565.2 342.5 L565.2 344.6 L565.2 340.5 L565.2 342.5 L565.8 345.5 L565.8 346.7 L565.8 344.3 L565.8 345.5 L566.1 368.2 L566.1 369.8 L566.1 366.8 L566.1 368.2 L566.6 369.7 L566.6 367.3 L566.6 372.4 L566.6 369.7 L567.4 374.3 L567.4 374.2 L567.4 375.2 L567.4 374.3 L568.1 375.8 L568.1 373.4 L568.1 377.7 L568.1 375.8 L568.9 387.9 L568.9 389.1 L568.9 387.3 L568.9 387.9 L569.6 383.3 L569.6 385.4 L569.6 381.2 L569.6 383.3 L570.4 375.8 L570.4 377.0 L570.4 374.4 L570.4 375.8 L571.1 372.7 L571.1 375.7 L571.1 370.1 L571.1 372.7 L571.9 374.3 L571.9 371.8 L571.9 374.5 L571.9 374.3 L572.7 371.2 L572.7 372.8 L572.7 370.0 L572.7 371.2 L573.1 384.8 L573.1 387.4 L573.1 383.9 L573.1 384.8 L573.7 400.0 L573.7 400.2 L573.7 397.0 L573.7 400.0 L574.3 390.9 L574.3 390.9 L574.3 391.3 L574.3 390.9 L574.9 371.2 L574.9 371.5 L574.9 370.0 L574.9 371.2 L575.5 390.9 L575.5 392.2 L575.5 388.1 L575.5 390.9 L576.4 400.0 L576.4 398.2 L576.4 401.2 L576.4 400.0 L577.2 393.9 L577.2 396.6 L577.2 392.5 L577.2 393.9 L578.0 390.9 L578.0 392.2 L578.0 390.2 L578.0 390.9 L578.7 389.4 L578.7 391.1 L578.7 388.4 L578.7 389.4 L579.5 390.9 L579.5 391.6 L579.5 390.8 L579.5 390.9 L580.1 406.0 L580.1 406.2 L580.1 405.4 L580.1 406.0 L580.7 393.9 L580.7 396.8 L580.7 392.9 L580.7 393.9 L581.3 366.7 L581.3 366.4 L581.3 368.6 L581.3 366.7 L581.9 351.6 L581.9 353.8 L581.9 350.4 L581.9 351.6 L582.5 356.1 L582.5 356.2 L582.5 355.9 L582.5 356.1 L583.2 362.2 L583.2 361.8 L583.2 362.8 L583.2 362.2 L584.0 357.6 L584.0 359.0 L584.0 357.1 L584.0 357.6 L584.9 354.6 L584.9 355.4 L584.9 353.6 L584.9 354.6 L585.8 344.0 L585.8 345.9 L585.8 343.4 L585.8 344.0 L586.2 346.2 L586.2 346.4 L586.2 343.4 L586.2 346.2 L586.7 348.5 L586.7 347.4 L586.7 351.0 L586.7 348.5 L587.6 354.6 L587.6 352.5 L587.6 355.2 L587.6 354.6 L588.5 345.5 L588.5 342.8 L588.5 346.2 L588.5 345.5 L589.4 344.0 L589.4 341.2 L589.4 346.0 L589.4 344.0 L589.9 347.0 L589.9 346.4 L589.9 347.7 L589.9 347.0 L590.4 350.0 L590.4 352.1 L590.4 347.5 L590.4 350.0 L591.3 357.6 L591.3 355.6 L591.3 359.5 L591.3 357.6 L591.9 345.5 L591.9 343.3 L591.9 347.0 L591.9 345.5 L592.5 333.4 L592.5 334.6 L592.5 332.2 L592.5 333.4 L593.1 345.5 L593.1 345.6 L593.1 345.4 L593.1 345.5 L593.8 350.0 L593.8 348.9 L593.8 351.0 L593.8 350.0 L594.3 369.7 L594.3 367.9 L594.3 370.9 L594.3 369.7 L594.9 351.6 L594.9 353.1 L594.9 350.1 L594.9 351.6 L595.8 347.0 L595.8 345.3 L595.8 347.7 L595.8 347.0 L596.2 348.5 L596.2 348.7 L596.2 346.3 L596.2 348.5 L596.7 350.0 L596.7 349.9 L596.7 350.6 L596.7 350.0 L597.6 348.5 L597.6 350.4 L597.6 346.0 L597.6 348.5 L598.5 330.4 L598.5 328.1 L598.5 332.6 L598.5 330.4 L599.1 325.8 L599.1 323.3 L599.1 326.2 L599.1 325.8 L599.9 324.3 L599.9 324.4 L599.9 324.2 L599.9 324.3 L600.6 322.8 L600.6 321.7 L600.6 323.1 L600.6 322.8 L601.4 318.3 L601.4 320.1 L601.4 315.8 L601.4 318.3 L602.2 315.3 L602.2 315.2 L602.2 315.6 L602.2 315.3 L603.1 318.3 L603.1 317.7 L603.1 318.6 L603.1 318.3 L603.7 322.8 L603.7 320.9 L603.7 323.3 L603.7 322.8 L604.3 309.2 L604.3 307.6 L604.3 310.3 L604.3 309.2 L604.8 307.7 L604.8 306.0 L604.8 309.2 L604.8 307.7 L605.2 306.2 L605.2 306.3 L605.2 304.8 L605.2 306.2 L606.1 301.6 L606.1 301.0 L606.1 302.6 L606.1 301.6 L606.7 297.1 L606.7 294.4 L606.7 298.9 L606.7 297.1 L607.5 291.1 L607.5 289.5 L607.5 293.9 L607.5 291.1 L607.9 286.5 L607.9 285.3 L607.9 288.6 L607.9 286.5 L608.5 289.5 L608.5 287.4 L608.5 292.2 L608.5 289.5 L609.1 292.6 L609.1 293.5 L609.1 291.7 L609.1 292.6 L609.7 291.1 L609.7 293.2 L609.7 288.7 L609.7 291.1 L610.5 294.1 L610.5 295.3 L610.5 293.5 L610.5 294.1 L610.9 315.3 L610.9 315.6 L610.9 313.0 L610.9 315.3 L611.5 297.1 L611.5 294.9 L611.5 299.7 L611.5 297.1 L612.4 294.1 L612.4 297.0 L612.4 292.3 L612.4 294.1 L613.3 300.1 L613.3 302.8 L613.3 298.4 L613.3 300.1 L613.8 296.4 L613.8 298.3 L613.8 293.8 L613.8 296.4 L614.3 292.6 L614.3 293.8 L614.3 292.2 L614.3 292.6 L614.4 296.6 L614.4 296.2 L614.4 298.9 L614.4 296.6 L615.2 299.5 L615.2 297.6 L615.2 300.3 L615.2 299.5 L615.5 357.7 L615.5 355.9 L615.5 358.3 L615.5 357.7 L616.0 328.6 L616.0 326.0 L616.0 331.6 L616.0 328.6 L616.6 325.7 L616.6 324.6 L616.6 327.8 L616.6 325.7 L617.2 315.5 L617.2 316.1 L617.2 313.0 L617.2 315.5 L617.8 328.6 L617.8 327.6 L617.8 328.6 L617.8 328.6 L618.4 335.9 L618.4 335.9 L618.4 336.9 L618.4 335.9 L619.0 327.2 L619.0 324.2 L619.0 329.1 L619.0 327.2 L619.5 333.0 L619.5 330.9 L619.5 333.7 L619.5 333.0 L620.1 347.5 L620.1 350.1 L620.1 345.3 L620.1 347.5 L620.7 327.2 L620.7 325.9 L620.7 328.2 L620.7 327.2 L621.3 322.8 L621.3 321.9 L621.3 325.0 L621.3 322.8 L621.9 333.0 L621.9 333.5 L621.9 330.9 L621.9 333.0 L622.4 343.1 L622.4 343.7 L622.4 340.2 L622.4 343.1 L623.0 350.4 L623.0 349.9 L623.0 350.5 L623.0 350.4 L623.6 360.6 L623.6 362.8 L623.6 360.1 L623.6 360.6 L624.2 369.3 L624.2 367.3 L624.2 372.2 L624.2 369.3 L624.8 372.2 L624.8 371.9 L624.8 372.3 L624.8 372.2 L625.3 391.1 L625.3 392.3 L625.3 388.6 L625.3 391.1 L625.9 369.3 L625.9 366.7 L625.9 370.4 L625.9 369.3 L626.5 366.4 L626.5 364.5 L626.5 366.5 L626.5 366.4 L627.1 335.9 L627.1 335.8 L627.1 336.4 L627.1 335.9 L627.7 325.7 L627.7 326.1 L627.7 324.1 L627.7 325.7 L628.3 328.6 L628.3 326.1 L628.3 329.6 L628.3 328.6 L629.0 321.3 L629.0 323.5 L629.0 319.3 L629.0 321.3 L629.7 318.4 L629.7 320.1 L629.7 316.7 L629.7 318.4 L630.4 319.9 L630.4 317.9 L630.4 322.8 L630.4 319.9 L631.2 314.1 L631.2 312.9 L631.2 316.0 L631.2 314.1 L631.9 317.0 L631.9 317.0 L631.9 318.4 L631.9 317.0 L632.6 343.1 L632.6 344.6 L632.6 341.3 L632.6 343.1 L633.2 363.5 L633.2 363.9 L633.2 363.3 L633.2 363.5 L633.8 372.2 L633.8 375.2 L633.8 370.2 L633.8 372.2 L634.4 385.3 L634.4 386.5 L634.4 384.4 L634.4 385.3 L634.9 369.3 L634.9 370.5 L634.9 366.9 L634.9 369.3 L635.5 366.4 L635.5 364.9 L635.5 367.6 L635.5 366.4 L636.3 369.3 L636.3 368.2 L636.3 372.3 L636.3 369.3 L637.0 360.6 L637.0 360.8 L637.0 359.4 L637.0 360.6 L637.7 363.5 L637.7 363.0 L637.7 363.9 L637.7 363.5 L638.4 366.4 L638.4 364.6 L638.4 368.7 L638.4 366.4 L638.7 374.5 L638.7 375.6 L638.7 373.6 L638.7 374.5 L639.3 396.3 L639.3 396.3 L639.3 395.7 L639.3 396.3 L639.6 426.9 L639.6 425.5 L639.6 427.3 L639.6 426.9 L640.2 400.7 L640.2 398.0 L640.2 402.9 L640.2 400.7 L640.9 394.9 L640.9 392.9 L640.9 395.5 L640.9 394.9 L641.6 392.0 L641.6 392.2 L641.6 390.2 L641.6 392.0 L642.3 403.6 L642.3 404.0 L642.3 402.6 L642.3 403.6 L642.8 412.3 L642.8 412.4 L642.8 412.0 L642.8 412.3 L643.4 396.3 L643.4 399.0 L643.4 394.9 L643.4 396.3 L643.9 405.1 L643.9 405.2 L643.9 404.5 L643.9 405.1 L644.5 415.2 L644.5 416.1 L644.5 413.8 L644.5 415.2 L645.1 422.5 L645.1 421.9 L645.1 424.4 L645.1 422.5 L645.5 447.2 L645.5 450.0 L645.5 444.4 L645.5 447.2 L646.0 426.9 L646.0 429.1 L646.0 425.9 L646.0 426.9 L646.7 435.6 L646.7 435.7 L646.7 433.2 L646.7 435.6 L647.1 461.7 L647.1 463.3 L647.1 461.3 L647.1 461.7 L647.4 474.8 L647.4 475.5 L647.4 472.2 L647.4 474.8 L648.0 450.1 L648.0 450.6 L648.0 449.1 L648.0 450.1 L648.6 444.3 L648.6 442.0 L648.6 445.3 L648.6 444.3 L649.2 435.6 L649.2 433.5 L649.2 437.8 L649.2 435.6 L649.7 426.9 L649.7 426.5 L649.7 427.2 L649.7 426.9 L650.3 418.1 L650.3 419.6 L650.3 415.6 L650.3 418.1 L651.0 406.5 L651.0 405.4 L651.0 407.6 L651.0 406.5 L651.8 394.9 L651.8 392.0 L651.8 396.7 L651.8 394.9 L652.5 376.0 L652.5 377.8 L652.5 374.8 L652.5 376.0 L653.2 381.8 L653.2 383.6 L653.2 379.5 L653.2 381.8 L653.9 389.1 L653.9 390.3 L653.9 386.2 L653.9 389.1 L654.7 396.3 L654.7 395.2 L654.7 397.5 L654.7 396.3 L655.4 403.6 L655.4 401.7 L655.4 404.7 L655.4 403.6 L655.8 409.4 L655.8 410.6 L655.8 406.9 L655.8 409.4 L656.4 377.4 L656.4 378.6 L656.4 374.9 L656.4 377.4 L657.0 367.3 L657.0 366.5 L657.0 368.2 L657.0 367.3 L657.9 371.6 L657.9 369.2 L657.9 374.4 L657.9 371.6 L658.7 374.5 L658.7 373.4 L658.7 374.9 L658.7 374.5 L659.6 378.9 L659.6 377.0 L659.6 380.1 L659.6 378.9 L660.5 373.1 L660.5 372.3 L660.5 375.4 L660.5 373.1 L661.3 365.8 L661.3 364.6 L661.3 366.9 L661.3 365.8 L661.8 370.1 L661.8 369.5 L661.8 371.0 L661.8 370.1 L662.2 374.5 L662.2 373.7 L662.2 376.7 L662.2 374.5 L663.1 377.4 L663.1 375.5 L663.1 379.8 L663.1 377.4 L663.7 386.2 L663.7 385.6 L663.7 386.6 L663.7 386.2 L664.3 374.5 L664.3 372.1 L664.3 376.3 L664.3 374.5 L665.1 377.4 L665.1 376.0 L665.1 379.2 L665.1 377.4 L666.0 381.8 L666.0 381.7 L666.0 383.1 L666.0 381.8 L666.9 384.7 L666.9 385.8 L666.9 381.8 L666.9 384.7 L667.4 387.6 L667.4 385.0 L667.4 389.3 L667.4 387.6 L668.0 364.4 L668.0 364.7 L668.0 363.2 L668.0 364.4 L668.3 399.2 L668.3 398.9 L668.3 399.5 L668.3 399.2 L668.9 383.3 L668.9 386.3 L668.9 382.8 L668.9 383.3 L669.8 378.9 L669.8 381.8 L669.8 376.2 L669.8 378.9 L670.6 376.0 L670.6 377.4 L670.6 374.1 L670.6 376.0 L671.5 374.5 L671.5 375.0 L671.5 372.5 L671.5 374.5 L672.4 371.6 L672.4 373.1 L672.4 370.4 L672.4 371.6 L673.0 368.7 L673.0 370.4 L673.0 367.5 L673.0 368.7 L673.5 374.5 L673.5 372.0 L673.5 374.8 L673.5 374.5 L674.0 403.6 L674.0 404.1 L674.0 403.5 L674.0 403.6 L674.7 415.2 L674.7 414.3 L674.7 416.5 L674.7 415.2 L675.3 421.0 L675.3 421.8 L675.3 419.3 L675.3 421.0 L675.8 423.2 L675.8 425.7 L675.8 422.2 L675.8 423.2 L676.2 425.4 L676.2 425.4 L676.2 427.0 L676.2 425.4 L676.7 429.8 L676.7 427.1 L676.7 430.0 L676.7 429.8 L677.3 424.0 L677.3 425.8 L677.3 421.7 L677.3 424.0 L677.9 432.7 L677.9 431.5 L677.9 434.3 L677.9 432.7 L678.5 435.6 L678.5 436.4 L678.5 434.2 L678.5 435.6 L679.1 429.8 L679.1 429.5 L679.1 430.2 L679.1 429.8 L679.6 442.8 L679.6 441.2 L679.6 444.0 L679.6 442.8 L680.2 406.5 L680.2 405.3 L680.2 409.0 L680.2 406.5 L680.8 421.0 L680.8 423.5 L680.8 420.5 L680.8 421.0 L681.5 418.1 L681.5 420.4 L681.5 417.6 L681.5 418.1 L682.2 424.0 L682.2 421.2 L682.2 424.6 L682.2 424.0 L683.0 421.0 L683.0 421.7 L683.0 420.5 L683.0 421.0 L683.7 416.7 L683.7 414.0 L683.7 418.1 L683.7 416.7 L684.4 413.8 L684.4 414.5 L684.4 412.7 L684.4 413.8 L685.2 421.0 L685.2 418.8 L685.2 423.3 L685.2 421.0 L685.7 428.3 L685.7 426.9 L685.7 429.7 L685.7 428.3 L686.3 432.7 L686.3 434.8 L686.3 431.3 L686.3 432.7 L686.9 435.6 L686.9 434.6 L686.9 437.3 L686.9 435.6 L687.5 441.4 L687.5 441.3 L687.5 442.6 L687.5 441.4 L688.1 444.3 L688.1 444.2 L688.1 444.5 L688.1 444.3 L688.6 432.7 L688.6 429.9 L688.6 435.2 L688.6 432.7 L689.2 441.4 L689.2 440.4 L689.2 442.5 L689.2 441.4 L689.7 454.5 L689.7 455.7 L689.7 454.1 L689.7 454.5 L690.2 435.6 L690.2 434.5 L690.2 436.1 L690.2 435.6 L691.0 424.0 L691.0 424.0 L691.0 426.3 L691.0 424.0 L691.5 415.2 L691.5 413.0 L691.5 417.6 L691.5 415.2 L692.1 425.4 L692.1 426.3 L692.1 424.8 L692.1 425.4 L692.7 421.0 L692.7 418.8 L692.7 421.9 L692.7 421.0 L693.3 418.1 L693.3 419.5 L693.3 417.0 L693.3 418.1 L693.9 413.8 L693.9 416.2 L693.9 413.0 L693.9 413.8 L694.7 410.9 L694.7 413.8 L694.7 409.1 L694.7 410.9 L695.3 406.5 L695.3 406.0 L695.3 409.5 L695.3 406.5 L695.5 415.8 L695.5 413.4 L695.5 416.2 L695.5 415.8 L696.1 425.6 L696.1 426.8 L696.1 424.3 L696.1 425.6 L696.5 392.9 L696.5 395.6 L696.5 392.3 L696.5 392.9 L697.0 401.6 L697.0 400.1 L697.0 401.8 L697.0 401.6 L697.4 410.4 L697.4 411.7 L697.4 409.5 L697.4 410.4 L697.8 408.2 L697.8 406.4 L697.8 410.7 L697.8 408.2 L698.3 410.4 L698.3 409.7 L698.3 412.6 L698.3 410.4 L698.8 406.0 L698.8 405.3 L698.8 406.2 L698.8 406.0 L699.4 408.2 L699.4 407.0 L699.4 409.8 L699.4 408.2 L699.9 400.6 L699.9 399.4 L699.9 401.5 L699.9 400.6 L700.4 406.0 L700.4 404.0 L700.4 407.0 L700.4 406.0 L701.0 414.7 L701.0 413.6 L701.0 415.5 L701.0 414.7 L701.5 410.4 L701.5 409.5 L701.5 411.3 L701.5 410.4 L702.1 419.1 L702.1 419.0 L702.1 420.5 L702.1 419.1 L702.6 425.6 L702.6 423.0 L702.6 426.7 L702.6 425.6 L703.2 420.2 L703.2 418.6 L703.2 420.3 L703.2 420.2 L703.7 414.7 L703.7 412.3 L703.7 416.4 L703.7 414.7 L704.3 412.5 L704.3 414.8 L704.3 411.5 L704.3 412.5 L704.8 410.4 L704.8 412.9 L704.8 408.0 L704.8 410.4 L705.3 408.2 L705.3 406.0 L705.3 410.2 L705.3 408.2 L705.9 410.4 L705.9 412.1 L705.9 408.8 L705.9 410.4 L706.4 411.4 L706.4 408.9 L706.4 414.0 L706.4 411.4 L707.0 408.2 L707.0 410.0 L707.0 405.9 L707.0 408.2 L707.5 432.1 L707.5 429.4 L707.5 432.2 L707.5 432.1 L708.1 391.8 L708.1 390.7 L708.1 394.6 L708.1 391.8 L708.6 406.0 L708.6 406.4 L708.6 404.3 L708.6 406.0 L709.2 410.4 L709.2 408.9 L709.2 412.6 L709.2 410.4 L709.7 408.2 L709.7 405.5 L709.7 408.2 L709.7 408.2 L710.3 412.5 L710.3 415.1 L710.3 410.3 L710.3 412.5 L710.8 419.1 L710.8 419.3 L710.8 418.3 L710.8 419.1 L711.3 416.9 L711.3 417.1 L711.3 414.7 L711.3 416.9 L711.9 404.9 L711.9 403.3 L711.9 405.0 L711.9 404.9 L712.4 403.8 L712.4 404.1 L712.4 402.8 L712.4 403.8 L713.0 401.6 L713.0 400.4 L713.0 402.0 L713.0 401.6 L713.5 410.4 L713.5 409.6 L713.5 412.4 L713.5 410.4 L714.1 433.2 L714.1 432.2 L714.1 434.4 L714.1 433.2 L714.6 423.4 L714.6 425.2 L714.6 422.1 L714.6 423.4 L715.2 421.3 L715.2 424.0 L715.2 418.5 L715.2 421.3 L715.7 419.1 L715.7 418.4 L715.7 419.8 L715.7 419.1 L716.2 414.7 L716.2 412.8 L716.2 416.5 L716.2 414.7 L716.8 416.9 L716.8 413.9 L716.8 417.8 L716.8 416.9 L717.3 418.0 L717.3 418.6 L717.3 417.7 L717.3 418.0 L717.9 415.8 L717.9 413.3 L717.9 415.9 L717.9 415.8 L718.4 416.9 L718.4 419.3 L718.4 416.2 L718.4 416.9 L719.0 430.0 L719.0 430.3 L719.0 429.2 L719.0 430.0 L719.2 406.0 L719.2 403.1 L719.2 408.1 L719.2 406.0 L719.6 401.6 L719.6 403.9 L719.6 399.4 L719.6 401.6 L720.1 397.3 L720.1 398.9 L720.1 396.5 L720.1 397.3 L720.7 399.5 L720.7 398.5 L720.7 401.4 L720.7 399.5 L721.1 396.2 L721.1 393.3 L721.1 396.8 L721.1 396.2 L721.8 394.0 L721.8 396.9 L721.8 391.1 L721.8 394.0 L722.5 397.3 L722.5 399.8 L722.5 394.8 L722.5 397.3 L723.1 394.0 L723.1 394.2 L723.1 392.3 L723.1 394.0 L723.8 392.9 L723.8 390.4 L723.8 395.4 L723.8 392.9 L724.4 390.8 L724.4 390.6 L724.4 393.0 L724.4 390.8 L725.0 388.6 L725.0 385.9 L725.0 391.6 L725.0 388.6 L725.4 377.7 L725.4 379.7 L725.4 375.7 L725.4 377.7 L725.7 370.1 L725.7 369.0 L725.7 372.0 L725.7 370.1 L726.2 358.1 L726.2 360.3 L726.2 356.9 L726.2 358.1 L726.6 366.8 L726.6 365.4 L726.6 367.4 L726.6 366.8 L727.0 371.1 L727.0 369.1 L727.0 372.7 L727.0 371.1 L727.5 376.6 L727.5 376.6 L727.5 377.8 L727.5 376.6 L727.9 373.3 L727.9 372.6 L727.9 374.0 L727.9 373.3 L728.6 371.1 L728.6 373.8 L728.6 369.0 L728.6 371.1 L729.2 369.0 L729.2 371.6 L729.2 368.9 L729.2 369.0 L729.9 365.7 L729.9 364.5 L729.9 367.5 L729.9 365.7 L730.4 366.8 L730.4 367.0 L730.4 365.8 L730.4 366.8 L730.9 369.0 L730.9 371.0 L730.9 368.8 L730.9 369.0 L731.3 414.7 L731.3 415.9 L731.3 412.7 L731.3 414.7 L731.7 395.1 L731.7 397.5 L731.7 392.2 L731.7 395.1 L732.3 399.5 L732.3 399.5 L732.3 398.1 L732.3 399.5 L732.7 404.9 L732.7 407.5 L732.7 403.0 L732.7 404.9 L733.1 401.6 L733.1 401.6 L733.1 400.5 L733.1 401.6 L733.7 399.5 L733.7 402.5 L733.7 397.6 L733.7 399.5 L734.2 402.7 L734.2 405.0 L734.2 400.1 L734.2 402.7 L734.8 395.1 L734.8 393.9 L734.8 397.8 L734.8 395.1 L735.3 399.5 L735.3 399.5 L735.3 400.5 L735.3 399.5 L735.9 401.6 L735.9 398.6 L735.9 402.8 L735.9 401.6 L736.4 403.8 L736.4 401.7 L736.4 404.1 L736.4 403.8 L736.7 422.3 L736.7 422.7 L736.7 421.1 L736.7 422.3 L737.2 403.8 L737.2 402.5 L737.2 406.2 L737.2 403.8 L737.7 401.6 L737.7 402.2 L737.7 398.7 L737.7 401.6 L738.1 410.4 L738.1 409.7 L738.1 410.4 L738.1 410.4 L738.6 406.0 L738.6 403.3 L738.6 406.9 L738.6 406.0" fill="none" stroke="#2f78ec" stroke-width="1" stroke-linejoin="round"/></g>
</svg>

<!-- legend -->
<div style="position:absolute;left:10.6px;top:8.8px;width:16.8px;height:16.8px;border-radius:50%;background:#168cb8;color:#fff;font-size:8.8px;font-weight:700;text-align:center;line-height:17.6px;letter-spacing:-0.25px;text-indent:-0.2px">100</div>
<div class="t" style="left:31.6px;top:10.6px;font-size:13.85px;color:#3a3a3a">US Nas 100 <b style="color:#000">·</b> 2ч <b style="color:#000">·</b> OANDA</div>
<div style="position:absolute;left:203.6px;top:8.8px;width:16.8px;height:16.8px;border-radius:50%;background:#efefef"></div>
<div style="position:absolute;left:207.2px;top:15.6px;width:9.6px;height:3.2px;border-radius:1.6px;background:#8c8c8c"></div>

<!-- fib labels -->
<div class="fl" style="left:141px;top:52px;color:#3a52b0">(28&#8201;750,0)</div>
<div class="fl" style="left:141px;top:276px;color:#333">(26&#8201;300,0)</div>
<div class="fl" style="left:141px;top:500px;color:#333">(23&#8201;850,0)</div>
<div class="fl" style="left:141px;top:724px;color:#3a52b0">(21&#8201;400,0)</div>

<!-- USD button -->
<div style="position:absolute;left:956px;top:7px;width:62px;height:23px;border-radius:5px;background:#f9f9f9"></div>
<div class="t" style="left:960.4px;top:12.8px;font-size:11.5px;color:#222;transform:scaleX(0.83);transform-origin:0 0">USD</div>
<svg width="1024" height="826" style="pointer-events:none"><path d="M1008.8 16.3 L1011.4 18.8 L1014 16.3" fill="none" stroke="#222" stroke-width="1.3"/></svg>

<!-- price scale labels -->
<div class="pl" style="top:44.1px">28&#8201;800,0</div>
<div class="pl" style="top:80.8px">28&#8201;400,0</div>
<div class="pl" style="top:117.4px">28&#8201;000,0</div>
<div class="pl" style="top:154.0px">27&#8201;600,0</div>
<div class="pl" style="top:190.6px">27&#8201;200,0</div>
<div class="pl" style="top:227.3px">26&#8201;800,0</div>
<div class="pl" style="top:300.5px">26&#8201;000,0</div>
<div class="pl" style="top:337.1px">25&#8201;600,0</div>
<div class="pl" style="top:373.7px">25&#8201;200,0</div>
<div class="pl" style="top:447.0px">24&#8201;400,0</div>
<div class="pl" style="top:483.6px">24&#8201;000,0</div>
<div class="pl" style="top:520.2px">23&#8201;600,0</div>
<div class="pl" style="top:556.8px">23&#8201;200,0</div>
<div class="pl" style="top:593.5px">22&#8201;800,0</div>
<div class="pl" style="top:630.1px">22&#8201;400,0</div>
<div class="pl" style="top:666.7px">22&#8201;000,0</div>
<div class="pl" style="top:703.3px">21&#8201;600,0</div>
<div class="pl" style="top:739.9px">21&#8201;200,0</div>
<div class="pl" style="top:776.6px">20&#8201;800,0</div>

<!-- colored labels -->
<div class="lab" style="top:272.8px;height:19px;padding-top:1.35px;background:#e3ecf7;color:#000;">26&#8201;288,1</div>
<div class="lab" style="top:253.2px;height:19.6px;padding-top:2.55px;background:#f23645;color:#fff;border-radius:0 3px 3px 0;">26&#8201;300,0</div>
<div class="side" style="left:907.25px;width:43.5px;top:272px;height:19.6px;padding-top:3.75px">Макс.</div>
<div class="lab" style="top:390.3px;height:18.6px;padding-top:2.25px;background:#4a4a4a;color:#fff;border-radius:0 3px 3px 0;">24&#8201;996,6</div>
<div class="lab" style="top:408.9px;height:19.7px;padding-top:2.95px;background:#2b79f3;color:#fff;border-radius:0 3px 3px 0;">24&#8201;925,8</div>
<div class="lab" style="top:495.3px;height:19.1px;padding-top:1.65px;background:#f23645;color:#fff;border-radius:0 3px 3px 0;">23&#8201;850,0</div>
<div class="lab" style="top:574.8px;height:18.6px;padding-top:2.55px;background:#e3ecf7;color:#000;">22&#8201;979,2</div>
<div class="side" style="left:912.4px;width:39.5px;top:574.8px;height:18.6px;padding-top:4.05px">Мин.</div>

<!-- time axis -->
<div class="tl" style="left:117px">Окт</div>
<div class="tl" style="left:250px">Ноя</div>
<div class="tl" style="left:362.5px">Дек</div>
<div class="tl" style="left:487px;font-weight:700;letter-spacing:0.7px">2026</div>
<div class="tl" style="left:611px">Фев</div>
<div class="tl" style="left:726px">Мар</div>
<div class="tl" style="left:855px">Апр</div>

<!-- settings hexagon -->
<svg width="1024" height="826" style="pointer-events:none">
  <path d="M984.3 803.9 L991.3 803.9 L994.7 809.5 L991.3 815.1 L984.3 815.1 L980.9 809.5 Z" fill="none" stroke="#222" stroke-width="1.15" stroke-linejoin="round"/>
  <circle cx="987.8" cy="809.5" r="1.8" fill="none" stroke="#222" stroke-width="1.1"/>
</svg>

<!-- TV logo -->
<svg width="1024" height="826" style="pointer-events:none">
  <path d="M13 765 H24.5 V780 H19 V770.5 H13 Z" fill="#000"/>
  <circle cx="29.5" cy="768.3" r="2.4" fill="#000"/>
  <path d="M36 765 H42 L36.5 780 H30 Z" fill="#000"/>
</svg>
</body></html>
